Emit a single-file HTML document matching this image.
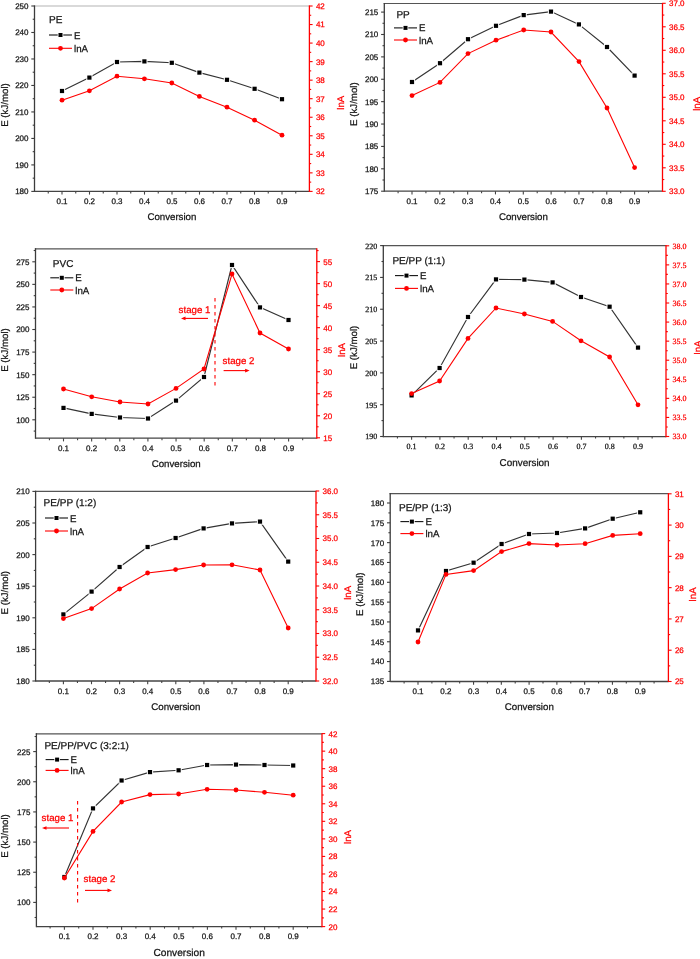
<!DOCTYPE html>
<html><head><meta charset="utf-8"><title>Charts</title>
<style>html,body{margin:0;padding:0;background:#fff;}svg{display:block;will-change:transform;filter:blur(0.35px);}text{text-rendering:geometricPrecision;stroke-width:0.25px;}</style>
</head><body>
<svg width="700" height="959" viewBox="0 0 700 959">
<rect width="700" height="959" fill="#fff"/>
<g>
<line x1="33.9" y1="6.0" x2="309.4" y2="6.0" stroke="#b4b4b4" stroke-width="1.2"/>
<line x1="34.5" y1="5.4" x2="34.5" y2="192.0" stroke="#3c3c3c" stroke-width="1.3"/>
<line x1="34.5" y1="191.4" x2="309.4" y2="191.4" stroke="#444444" stroke-width="1.3"/>
<line x1="309.4" y1="5.4" x2="309.4" y2="192.0" stroke="#ff0000" stroke-width="1.3"/>
<line x1="31.3" y1="191.40" x2="34.5" y2="191.40" stroke="#3c3c3c" stroke-width="1.1"/>
<text x="28.5" y="194.30" text-anchor="end" font-family='"Liberation Sans", sans-serif' font-size="8" fill="#141414" stroke="#141414">180</text>
<line x1="32.7" y1="178.16" x2="34.5" y2="178.16" stroke="#3c3c3c" stroke-width="1.1"/>
<line x1="31.3" y1="164.91" x2="34.5" y2="164.91" stroke="#3c3c3c" stroke-width="1.1"/>
<text x="28.5" y="167.81" text-anchor="end" font-family='"Liberation Sans", sans-serif' font-size="8" fill="#141414" stroke="#141414">190</text>
<line x1="32.7" y1="151.67" x2="34.5" y2="151.67" stroke="#3c3c3c" stroke-width="1.1"/>
<line x1="31.3" y1="138.43" x2="34.5" y2="138.43" stroke="#3c3c3c" stroke-width="1.1"/>
<text x="28.5" y="141.33" text-anchor="end" font-family='"Liberation Sans", sans-serif' font-size="8" fill="#141414" stroke="#141414">200</text>
<line x1="32.7" y1="125.19" x2="34.5" y2="125.19" stroke="#3c3c3c" stroke-width="1.1"/>
<line x1="31.3" y1="111.94" x2="34.5" y2="111.94" stroke="#3c3c3c" stroke-width="1.1"/>
<text x="28.5" y="114.84" text-anchor="end" font-family='"Liberation Sans", sans-serif' font-size="8" fill="#141414" stroke="#141414">210</text>
<line x1="32.7" y1="98.70" x2="34.5" y2="98.70" stroke="#3c3c3c" stroke-width="1.1"/>
<line x1="31.3" y1="85.46" x2="34.5" y2="85.46" stroke="#3c3c3c" stroke-width="1.1"/>
<text x="28.5" y="88.36" text-anchor="end" font-family='"Liberation Sans", sans-serif' font-size="8" fill="#141414" stroke="#141414">220</text>
<line x1="32.7" y1="72.21" x2="34.5" y2="72.21" stroke="#3c3c3c" stroke-width="1.1"/>
<line x1="31.3" y1="58.97" x2="34.5" y2="58.97" stroke="#3c3c3c" stroke-width="1.1"/>
<text x="28.5" y="61.87" text-anchor="end" font-family='"Liberation Sans", sans-serif' font-size="8" fill="#141414" stroke="#141414">230</text>
<line x1="32.7" y1="45.73" x2="34.5" y2="45.73" stroke="#3c3c3c" stroke-width="1.1"/>
<line x1="31.3" y1="32.49" x2="34.5" y2="32.49" stroke="#3c3c3c" stroke-width="1.1"/>
<text x="28.5" y="35.39" text-anchor="end" font-family='"Liberation Sans", sans-serif' font-size="8" fill="#141414" stroke="#141414">240</text>
<line x1="32.7" y1="19.24" x2="34.5" y2="19.24" stroke="#3c3c3c" stroke-width="1.1"/>
<line x1="31.3" y1="6.00" x2="34.5" y2="6.00" stroke="#3c3c3c" stroke-width="1.1"/>
<text x="28.5" y="8.90" text-anchor="end" font-family='"Liberation Sans", sans-serif' font-size="8" fill="#141414" stroke="#141414">250</text>
<line x1="309.4" y1="191.40" x2="312.6" y2="191.40" stroke="#ff0000" stroke-width="1.1"/>
<text x="315.9" y="194.30" font-family='"Liberation Sans", sans-serif' font-size="8" fill="#ff0000" stroke="#ff0000">32</text>
<line x1="309.4" y1="182.13" x2="311.2" y2="182.13" stroke="#ff0000" stroke-width="1.1"/>
<line x1="309.4" y1="172.86" x2="312.6" y2="172.86" stroke="#ff0000" stroke-width="1.1"/>
<text x="315.9" y="175.76" font-family='"Liberation Sans", sans-serif' font-size="8" fill="#ff0000" stroke="#ff0000">33</text>
<line x1="309.4" y1="163.59" x2="311.2" y2="163.59" stroke="#ff0000" stroke-width="1.1"/>
<line x1="309.4" y1="154.32" x2="312.6" y2="154.32" stroke="#ff0000" stroke-width="1.1"/>
<text x="315.9" y="157.22" font-family='"Liberation Sans", sans-serif' font-size="8" fill="#ff0000" stroke="#ff0000">34</text>
<line x1="309.4" y1="145.05" x2="311.2" y2="145.05" stroke="#ff0000" stroke-width="1.1"/>
<line x1="309.4" y1="135.78" x2="312.6" y2="135.78" stroke="#ff0000" stroke-width="1.1"/>
<text x="315.9" y="138.68" font-family='"Liberation Sans", sans-serif' font-size="8" fill="#ff0000" stroke="#ff0000">35</text>
<line x1="309.4" y1="126.51" x2="311.2" y2="126.51" stroke="#ff0000" stroke-width="1.1"/>
<line x1="309.4" y1="117.24" x2="312.6" y2="117.24" stroke="#ff0000" stroke-width="1.1"/>
<text x="315.9" y="120.14" font-family='"Liberation Sans", sans-serif' font-size="8" fill="#ff0000" stroke="#ff0000">36</text>
<line x1="309.4" y1="107.97" x2="311.2" y2="107.97" stroke="#ff0000" stroke-width="1.1"/>
<line x1="309.4" y1="98.70" x2="312.6" y2="98.70" stroke="#ff0000" stroke-width="1.1"/>
<text x="315.9" y="101.60" font-family='"Liberation Sans", sans-serif' font-size="8" fill="#ff0000" stroke="#ff0000">37</text>
<line x1="309.4" y1="89.43" x2="311.2" y2="89.43" stroke="#ff0000" stroke-width="1.1"/>
<line x1="309.4" y1="80.16" x2="312.6" y2="80.16" stroke="#ff0000" stroke-width="1.1"/>
<text x="315.9" y="83.06" font-family='"Liberation Sans", sans-serif' font-size="8" fill="#ff0000" stroke="#ff0000">38</text>
<line x1="309.4" y1="70.89" x2="311.2" y2="70.89" stroke="#ff0000" stroke-width="1.1"/>
<line x1="309.4" y1="61.62" x2="312.6" y2="61.62" stroke="#ff0000" stroke-width="1.1"/>
<text x="315.9" y="64.52" font-family='"Liberation Sans", sans-serif' font-size="8" fill="#ff0000" stroke="#ff0000">39</text>
<line x1="309.4" y1="52.35" x2="311.2" y2="52.35" stroke="#ff0000" stroke-width="1.1"/>
<line x1="309.4" y1="43.08" x2="312.6" y2="43.08" stroke="#ff0000" stroke-width="1.1"/>
<text x="315.9" y="45.98" font-family='"Liberation Sans", sans-serif' font-size="8" fill="#ff0000" stroke="#ff0000">40</text>
<line x1="309.4" y1="33.81" x2="311.2" y2="33.81" stroke="#ff0000" stroke-width="1.1"/>
<line x1="309.4" y1="24.54" x2="312.6" y2="24.54" stroke="#ff0000" stroke-width="1.1"/>
<text x="315.9" y="27.44" font-family='"Liberation Sans", sans-serif' font-size="8" fill="#ff0000" stroke="#ff0000">41</text>
<line x1="309.4" y1="15.27" x2="311.2" y2="15.27" stroke="#ff0000" stroke-width="1.1"/>
<line x1="309.4" y1="6.00" x2="312.6" y2="6.00" stroke="#ff0000" stroke-width="1.1"/>
<text x="315.9" y="8.90" font-family='"Liberation Sans", sans-serif' font-size="8" fill="#ff0000" stroke="#ff0000">42</text>
<line x1="48.25" y1="191.4" x2="48.25" y2="193.4" stroke="#444444" stroke-width="1.1"/>
<line x1="62.00" y1="191.4" x2="62.00" y2="194.6" stroke="#444444" stroke-width="1.1"/>
<text x="62.00" y="203.9" text-anchor="middle" font-family='"Liberation Sans", sans-serif' font-size="8" fill="#141414" stroke="#141414">0.1</text>
<line x1="75.75" y1="191.4" x2="75.75" y2="193.4" stroke="#444444" stroke-width="1.1"/>
<line x1="89.50" y1="191.4" x2="89.50" y2="194.6" stroke="#444444" stroke-width="1.1"/>
<text x="89.50" y="203.9" text-anchor="middle" font-family='"Liberation Sans", sans-serif' font-size="8" fill="#141414" stroke="#141414">0.2</text>
<line x1="103.25" y1="191.4" x2="103.25" y2="193.4" stroke="#444444" stroke-width="1.1"/>
<line x1="117.00" y1="191.4" x2="117.00" y2="194.6" stroke="#444444" stroke-width="1.1"/>
<text x="117.00" y="203.9" text-anchor="middle" font-family='"Liberation Sans", sans-serif' font-size="8" fill="#141414" stroke="#141414">0.3</text>
<line x1="130.75" y1="191.4" x2="130.75" y2="193.4" stroke="#444444" stroke-width="1.1"/>
<line x1="144.50" y1="191.4" x2="144.50" y2="194.6" stroke="#444444" stroke-width="1.1"/>
<text x="144.50" y="203.9" text-anchor="middle" font-family='"Liberation Sans", sans-serif' font-size="8" fill="#141414" stroke="#141414">0.4</text>
<line x1="158.25" y1="191.4" x2="158.25" y2="193.4" stroke="#444444" stroke-width="1.1"/>
<line x1="172.00" y1="191.4" x2="172.00" y2="194.6" stroke="#444444" stroke-width="1.1"/>
<text x="172.00" y="203.9" text-anchor="middle" font-family='"Liberation Sans", sans-serif' font-size="8" fill="#141414" stroke="#141414">0.5</text>
<line x1="185.75" y1="191.4" x2="185.75" y2="193.4" stroke="#444444" stroke-width="1.1"/>
<line x1="199.50" y1="191.4" x2="199.50" y2="194.6" stroke="#444444" stroke-width="1.1"/>
<text x="199.50" y="203.9" text-anchor="middle" font-family='"Liberation Sans", sans-serif' font-size="8" fill="#141414" stroke="#141414">0.6</text>
<line x1="213.25" y1="191.4" x2="213.25" y2="193.4" stroke="#444444" stroke-width="1.1"/>
<line x1="227.00" y1="191.4" x2="227.00" y2="194.6" stroke="#444444" stroke-width="1.1"/>
<text x="227.00" y="203.9" text-anchor="middle" font-family='"Liberation Sans", sans-serif' font-size="8" fill="#141414" stroke="#141414">0.7</text>
<line x1="240.75" y1="191.4" x2="240.75" y2="193.4" stroke="#444444" stroke-width="1.1"/>
<line x1="254.50" y1="191.4" x2="254.50" y2="194.6" stroke="#444444" stroke-width="1.1"/>
<text x="254.50" y="203.9" text-anchor="middle" font-family='"Liberation Sans", sans-serif' font-size="8" fill="#141414" stroke="#141414">0.8</text>
<line x1="268.25" y1="191.4" x2="268.25" y2="193.4" stroke="#444444" stroke-width="1.1"/>
<line x1="282.00" y1="191.4" x2="282.00" y2="194.6" stroke="#444444" stroke-width="1.1"/>
<text x="282.00" y="203.9" text-anchor="middle" font-family='"Liberation Sans", sans-serif' font-size="8" fill="#141414" stroke="#141414">0.9</text>
<line x1="295.75" y1="191.4" x2="295.75" y2="193.4" stroke="#444444" stroke-width="1.1"/>
<text x="171.9" y="219.7" text-anchor="middle" font-family='"Liberation Sans", sans-serif' font-size="9.70" fill="#141414" stroke="#141414">Conversion</text>
<text transform="translate(7.8 105.0) rotate(-90)" text-anchor="middle" font-family='"Liberation Sans", sans-serif' font-size="9.7" fill="#141414" stroke="#141414">E (kJ/mol)</text>
<text transform="translate(343.6 102.7) rotate(-90)" text-anchor="middle" font-family='"Liberation Sans", sans-serif' font-size="9.7" fill="#ff0000" stroke="#ff0000">lnA</text>
<text x="49.0" y="22.9" font-family='"Liberation Sans", sans-serif' font-size="10" fill="#141414" stroke="#141414">PE</text>
<line x1="49.0" y1="35.0" x2="72.0" y2="35.0" stroke="#111" stroke-width="1.1"/>
<rect x="57.70" y="32.20" width="5.6" height="5.6" fill="#fff"/>
<rect x="58.50" y="33.00" width="4" height="4" fill="#000"/>
<text x="74.0" y="38.5" font-family='"Liberation Sans", sans-serif' font-size="9.7" fill="#141414" stroke="#141414">E</text>
<line x1="49.0" y1="48.3" x2="72.0" y2="48.3" stroke="#ff0000" stroke-width="1.1"/>
<circle cx="60.5" cy="48.3" r="2.4" fill="#ff0000"/>
<text x="74.0" y="51.8" font-family='"Liberation Sans", sans-serif' font-size="9.7" fill="#141414" stroke="#141414">lnA</text>
<polyline points="62.0,91.0 89.4,77.6 117.0,62.0 144.4,61.4 171.8,62.8 199.4,72.6 227.0,79.8 254.6,88.8 282.0,99.2" fill="none" stroke="#333" stroke-width="1.15"/>
<rect x="58.90" y="87.90" width="6.2" height="6.2" fill="#fff"/>
<rect x="59.90" y="88.90" width="4.2" height="4.2" fill="#000"/>
<rect x="86.30" y="74.50" width="6.2" height="6.2" fill="#fff"/>
<rect x="87.30" y="75.50" width="4.2" height="4.2" fill="#000"/>
<rect x="113.90" y="58.90" width="6.2" height="6.2" fill="#fff"/>
<rect x="114.90" y="59.90" width="4.2" height="4.2" fill="#000"/>
<rect x="141.30" y="58.30" width="6.2" height="6.2" fill="#fff"/>
<rect x="142.30" y="59.30" width="4.2" height="4.2" fill="#000"/>
<rect x="168.70" y="59.70" width="6.2" height="6.2" fill="#fff"/>
<rect x="169.70" y="60.70" width="4.2" height="4.2" fill="#000"/>
<rect x="196.30" y="69.50" width="6.2" height="6.2" fill="#fff"/>
<rect x="197.30" y="70.50" width="4.2" height="4.2" fill="#000"/>
<rect x="223.90" y="76.70" width="6.2" height="6.2" fill="#fff"/>
<rect x="224.90" y="77.70" width="4.2" height="4.2" fill="#000"/>
<rect x="251.50" y="85.70" width="6.2" height="6.2" fill="#fff"/>
<rect x="252.50" y="86.70" width="4.2" height="4.2" fill="#000"/>
<rect x="278.90" y="96.10" width="6.2" height="6.2" fill="#fff"/>
<rect x="279.90" y="97.10" width="4.2" height="4.2" fill="#000"/>
<polyline points="62.0,100.2 89.4,90.8 117.0,76.2 144.4,78.8 171.8,83.0 199.4,96.4 227.0,107.2 254.6,120.2 282.0,135.2" fill="none" stroke="#ff0000" stroke-width="1.1"/>
<circle cx="62.0" cy="100.2" r="2.4" fill="#ff0000"/>
<circle cx="89.4" cy="90.8" r="2.4" fill="#ff0000"/>
<circle cx="117.0" cy="76.2" r="2.4" fill="#ff0000"/>
<circle cx="144.4" cy="78.8" r="2.4" fill="#ff0000"/>
<circle cx="171.8" cy="83.0" r="2.4" fill="#ff0000"/>
<circle cx="199.4" cy="96.4" r="2.4" fill="#ff0000"/>
<circle cx="227.0" cy="107.2" r="2.4" fill="#ff0000"/>
<circle cx="254.6" cy="120.2" r="2.4" fill="#ff0000"/>
<circle cx="282.0" cy="135.2" r="2.4" fill="#ff0000"/>
</g>
<g>
<line x1="383.7" y1="3.5" x2="662.5" y2="3.5" stroke="#555555" stroke-width="1.2"/>
<line x1="384.3" y1="2.9" x2="384.3" y2="191.8" stroke="#3c3c3c" stroke-width="1.3"/>
<line x1="384.3" y1="191.2" x2="662.5" y2="191.2" stroke="#444444" stroke-width="1.3"/>
<line x1="662.5" y1="2.9" x2="662.5" y2="191.8" stroke="#ff0000" stroke-width="1.3"/>
<line x1="381.1" y1="191.20" x2="384.3" y2="191.20" stroke="#3c3c3c" stroke-width="1.1"/>
<text x="378.3" y="194.10" text-anchor="end" font-family='"Liberation Sans", sans-serif' font-size="8" fill="#141414" stroke="#141414">175</text>
<line x1="382.5" y1="180.01" x2="384.3" y2="180.01" stroke="#3c3c3c" stroke-width="1.1"/>
<line x1="381.1" y1="168.81" x2="384.3" y2="168.81" stroke="#3c3c3c" stroke-width="1.1"/>
<text x="378.3" y="171.71" text-anchor="end" font-family='"Liberation Sans", sans-serif' font-size="8" fill="#141414" stroke="#141414">180</text>
<line x1="382.5" y1="157.62" x2="384.3" y2="157.62" stroke="#3c3c3c" stroke-width="1.1"/>
<line x1="381.1" y1="146.42" x2="384.3" y2="146.42" stroke="#3c3c3c" stroke-width="1.1"/>
<text x="378.3" y="149.32" text-anchor="end" font-family='"Liberation Sans", sans-serif' font-size="8" fill="#141414" stroke="#141414">185</text>
<line x1="382.5" y1="135.23" x2="384.3" y2="135.23" stroke="#3c3c3c" stroke-width="1.1"/>
<line x1="381.1" y1="124.04" x2="384.3" y2="124.04" stroke="#3c3c3c" stroke-width="1.1"/>
<text x="378.3" y="126.94" text-anchor="end" font-family='"Liberation Sans", sans-serif' font-size="8" fill="#141414" stroke="#141414">190</text>
<line x1="382.5" y1="112.84" x2="384.3" y2="112.84" stroke="#3c3c3c" stroke-width="1.1"/>
<line x1="381.1" y1="101.65" x2="384.3" y2="101.65" stroke="#3c3c3c" stroke-width="1.1"/>
<text x="378.3" y="104.55" text-anchor="end" font-family='"Liberation Sans", sans-serif' font-size="8" fill="#141414" stroke="#141414">195</text>
<line x1="382.5" y1="90.46" x2="384.3" y2="90.46" stroke="#3c3c3c" stroke-width="1.1"/>
<line x1="381.1" y1="79.26" x2="384.3" y2="79.26" stroke="#3c3c3c" stroke-width="1.1"/>
<text x="378.3" y="82.16" text-anchor="end" font-family='"Liberation Sans", sans-serif' font-size="8" fill="#141414" stroke="#141414">200</text>
<line x1="382.5" y1="68.07" x2="384.3" y2="68.07" stroke="#3c3c3c" stroke-width="1.1"/>
<line x1="381.1" y1="56.88" x2="384.3" y2="56.88" stroke="#3c3c3c" stroke-width="1.1"/>
<text x="378.3" y="59.77" text-anchor="end" font-family='"Liberation Sans", sans-serif' font-size="8" fill="#141414" stroke="#141414">205</text>
<line x1="382.5" y1="45.68" x2="384.3" y2="45.68" stroke="#3c3c3c" stroke-width="1.1"/>
<line x1="381.1" y1="34.49" x2="384.3" y2="34.49" stroke="#3c3c3c" stroke-width="1.1"/>
<text x="378.3" y="37.39" text-anchor="end" font-family='"Liberation Sans", sans-serif' font-size="8" fill="#141414" stroke="#141414">210</text>
<line x1="382.5" y1="23.29" x2="384.3" y2="23.29" stroke="#3c3c3c" stroke-width="1.1"/>
<line x1="381.1" y1="12.10" x2="384.3" y2="12.10" stroke="#3c3c3c" stroke-width="1.1"/>
<text x="378.3" y="15.00" text-anchor="end" font-family='"Liberation Sans", sans-serif' font-size="8" fill="#141414" stroke="#141414">215</text>
<line x1="662.5" y1="191.30" x2="665.7" y2="191.30" stroke="#ff0000" stroke-width="1.1"/>
<text x="669.0" y="194.20" font-family='"Liberation Sans", sans-serif' font-size="8" fill="#ff0000" stroke="#ff0000">33.0</text>
<line x1="662.5" y1="179.55" x2="664.3" y2="179.55" stroke="#ff0000" stroke-width="1.1"/>
<line x1="662.5" y1="167.80" x2="665.7" y2="167.80" stroke="#ff0000" stroke-width="1.1"/>
<text x="669.0" y="170.70" font-family='"Liberation Sans", sans-serif' font-size="8" fill="#ff0000" stroke="#ff0000">33.5</text>
<line x1="662.5" y1="156.05" x2="664.3" y2="156.05" stroke="#ff0000" stroke-width="1.1"/>
<line x1="662.5" y1="144.30" x2="665.7" y2="144.30" stroke="#ff0000" stroke-width="1.1"/>
<text x="669.0" y="147.20" font-family='"Liberation Sans", sans-serif' font-size="8" fill="#ff0000" stroke="#ff0000">34.0</text>
<line x1="662.5" y1="132.55" x2="664.3" y2="132.55" stroke="#ff0000" stroke-width="1.1"/>
<line x1="662.5" y1="120.80" x2="665.7" y2="120.80" stroke="#ff0000" stroke-width="1.1"/>
<text x="669.0" y="123.70" font-family='"Liberation Sans", sans-serif' font-size="8" fill="#ff0000" stroke="#ff0000">34.5</text>
<line x1="662.5" y1="109.05" x2="664.3" y2="109.05" stroke="#ff0000" stroke-width="1.1"/>
<line x1="662.5" y1="97.30" x2="665.7" y2="97.30" stroke="#ff0000" stroke-width="1.1"/>
<text x="669.0" y="100.20" font-family='"Liberation Sans", sans-serif' font-size="8" fill="#ff0000" stroke="#ff0000">35.0</text>
<line x1="662.5" y1="85.55" x2="664.3" y2="85.55" stroke="#ff0000" stroke-width="1.1"/>
<line x1="662.5" y1="73.80" x2="665.7" y2="73.80" stroke="#ff0000" stroke-width="1.1"/>
<text x="669.0" y="76.70" font-family='"Liberation Sans", sans-serif' font-size="8" fill="#ff0000" stroke="#ff0000">35.5</text>
<line x1="662.5" y1="62.05" x2="664.3" y2="62.05" stroke="#ff0000" stroke-width="1.1"/>
<line x1="662.5" y1="50.30" x2="665.7" y2="50.30" stroke="#ff0000" stroke-width="1.1"/>
<text x="669.0" y="53.20" font-family='"Liberation Sans", sans-serif' font-size="8" fill="#ff0000" stroke="#ff0000">36.0</text>
<line x1="662.5" y1="38.55" x2="664.3" y2="38.55" stroke="#ff0000" stroke-width="1.1"/>
<line x1="662.5" y1="26.80" x2="665.7" y2="26.80" stroke="#ff0000" stroke-width="1.1"/>
<text x="669.0" y="29.70" font-family='"Liberation Sans", sans-serif' font-size="8" fill="#ff0000" stroke="#ff0000">36.5</text>
<line x1="662.5" y1="15.05" x2="664.3" y2="15.05" stroke="#ff0000" stroke-width="1.1"/>
<line x1="662.5" y1="3.30" x2="665.7" y2="3.30" stroke="#ff0000" stroke-width="1.1"/>
<text x="669.0" y="6.20" font-family='"Liberation Sans", sans-serif' font-size="8" fill="#ff0000" stroke="#ff0000">37.0</text>
<line x1="398.09" y1="191.2" x2="398.09" y2="193.2" stroke="#444444" stroke-width="1.1"/>
<line x1="412.00" y1="191.2" x2="412.00" y2="194.4" stroke="#444444" stroke-width="1.1"/>
<text x="412.00" y="203.7" text-anchor="middle" font-family='"Liberation Sans", sans-serif' font-size="8" fill="#141414" stroke="#141414">0.1</text>
<line x1="425.91" y1="191.2" x2="425.91" y2="193.2" stroke="#444444" stroke-width="1.1"/>
<line x1="439.82" y1="191.2" x2="439.82" y2="194.4" stroke="#444444" stroke-width="1.1"/>
<text x="439.82" y="203.7" text-anchor="middle" font-family='"Liberation Sans", sans-serif' font-size="8" fill="#141414" stroke="#141414">0.2</text>
<line x1="453.74" y1="191.2" x2="453.74" y2="193.2" stroke="#444444" stroke-width="1.1"/>
<line x1="467.65" y1="191.2" x2="467.65" y2="194.4" stroke="#444444" stroke-width="1.1"/>
<text x="467.65" y="203.7" text-anchor="middle" font-family='"Liberation Sans", sans-serif' font-size="8" fill="#141414" stroke="#141414">0.3</text>
<line x1="481.56" y1="191.2" x2="481.56" y2="193.2" stroke="#444444" stroke-width="1.1"/>
<line x1="495.48" y1="191.2" x2="495.48" y2="194.4" stroke="#444444" stroke-width="1.1"/>
<text x="495.48" y="203.7" text-anchor="middle" font-family='"Liberation Sans", sans-serif' font-size="8" fill="#141414" stroke="#141414">0.4</text>
<line x1="509.39" y1="191.2" x2="509.39" y2="193.2" stroke="#444444" stroke-width="1.1"/>
<line x1="523.30" y1="191.2" x2="523.30" y2="194.4" stroke="#444444" stroke-width="1.1"/>
<text x="523.30" y="203.7" text-anchor="middle" font-family='"Liberation Sans", sans-serif' font-size="8" fill="#141414" stroke="#141414">0.5</text>
<line x1="537.21" y1="191.2" x2="537.21" y2="193.2" stroke="#444444" stroke-width="1.1"/>
<line x1="551.12" y1="191.2" x2="551.12" y2="194.4" stroke="#444444" stroke-width="1.1"/>
<text x="551.12" y="203.7" text-anchor="middle" font-family='"Liberation Sans", sans-serif' font-size="8" fill="#141414" stroke="#141414">0.6</text>
<line x1="565.04" y1="191.2" x2="565.04" y2="193.2" stroke="#444444" stroke-width="1.1"/>
<line x1="578.95" y1="191.2" x2="578.95" y2="194.4" stroke="#444444" stroke-width="1.1"/>
<text x="578.95" y="203.7" text-anchor="middle" font-family='"Liberation Sans", sans-serif' font-size="8" fill="#141414" stroke="#141414">0.7</text>
<line x1="592.86" y1="191.2" x2="592.86" y2="193.2" stroke="#444444" stroke-width="1.1"/>
<line x1="606.78" y1="191.2" x2="606.78" y2="194.4" stroke="#444444" stroke-width="1.1"/>
<text x="606.78" y="203.7" text-anchor="middle" font-family='"Liberation Sans", sans-serif' font-size="8" fill="#141414" stroke="#141414">0.8</text>
<line x1="620.69" y1="191.2" x2="620.69" y2="193.2" stroke="#444444" stroke-width="1.1"/>
<line x1="634.60" y1="191.2" x2="634.60" y2="194.4" stroke="#444444" stroke-width="1.1"/>
<text x="634.60" y="203.7" text-anchor="middle" font-family='"Liberation Sans", sans-serif' font-size="8" fill="#141414" stroke="#141414">0.9</text>
<line x1="648.51" y1="191.2" x2="648.51" y2="193.2" stroke="#444444" stroke-width="1.1"/>
<text x="523.4" y="219.7" text-anchor="middle" font-family='"Liberation Sans", sans-serif' font-size="9.70" fill="#141414" stroke="#141414">Conversion</text>
<text transform="translate(356.9 104.1) rotate(-90)" text-anchor="middle" font-family='"Liberation Sans", sans-serif' font-size="9.7" fill="#141414" stroke="#141414">E (kJ/mol)</text>
<text transform="translate(699.6 103.8) rotate(-90)" text-anchor="middle" font-family='"Liberation Sans", sans-serif' font-size="9.7" fill="#ff0000" stroke="#ff0000">lnA</text>
<text x="396.4" y="18.4" font-family='"Liberation Sans", sans-serif' font-size="10" fill="#141414" stroke="#141414">PP</text>
<line x1="394.0" y1="27.9" x2="417.0" y2="27.9" stroke="#111" stroke-width="1.1"/>
<rect x="402.70" y="25.10" width="5.6" height="5.6" fill="#fff"/>
<rect x="403.50" y="25.90" width="4" height="4" fill="#000"/>
<text x="419.0" y="31.4" font-family='"Liberation Sans", sans-serif' font-size="9.7" fill="#141414" stroke="#141414">E</text>
<line x1="394.0" y1="40.0" x2="417.0" y2="40.0" stroke="#ff0000" stroke-width="1.1"/>
<circle cx="405.5" cy="40.0" r="2.4" fill="#ff0000"/>
<text x="419.0" y="43.5" font-family='"Liberation Sans", sans-serif' font-size="9.7" fill="#141414" stroke="#141414">lnA</text>
<polyline points="412.0,82.0 440.0,63.2 468.0,39.2 496.0,25.8 523.7,15.1 551.0,11.6 578.9,24.4 607.0,47.0 634.6,75.6" fill="none" stroke="#333" stroke-width="1.15"/>
<rect x="408.90" y="78.90" width="6.2" height="6.2" fill="#fff"/>
<rect x="409.90" y="79.90" width="4.2" height="4.2" fill="#000"/>
<rect x="436.90" y="60.10" width="6.2" height="6.2" fill="#fff"/>
<rect x="437.90" y="61.10" width="4.2" height="4.2" fill="#000"/>
<rect x="464.90" y="36.10" width="6.2" height="6.2" fill="#fff"/>
<rect x="465.90" y="37.10" width="4.2" height="4.2" fill="#000"/>
<rect x="492.90" y="22.70" width="6.2" height="6.2" fill="#fff"/>
<rect x="493.90" y="23.70" width="4.2" height="4.2" fill="#000"/>
<rect x="520.60" y="12.00" width="6.2" height="6.2" fill="#fff"/>
<rect x="521.60" y="13.00" width="4.2" height="4.2" fill="#000"/>
<rect x="547.90" y="8.50" width="6.2" height="6.2" fill="#fff"/>
<rect x="548.90" y="9.50" width="4.2" height="4.2" fill="#000"/>
<rect x="575.80" y="21.30" width="6.2" height="6.2" fill="#fff"/>
<rect x="576.80" y="22.30" width="4.2" height="4.2" fill="#000"/>
<rect x="603.90" y="43.90" width="6.2" height="6.2" fill="#fff"/>
<rect x="604.90" y="44.90" width="4.2" height="4.2" fill="#000"/>
<rect x="631.50" y="72.50" width="6.2" height="6.2" fill="#fff"/>
<rect x="632.50" y="73.50" width="4.2" height="4.2" fill="#000"/>
<polyline points="412.0,95.6 440.0,82.4 468.0,53.6 496.0,40.2 523.7,30.0 551.0,32.0 579.0,61.6 607.0,108.0 634.6,167.6" fill="none" stroke="#ff0000" stroke-width="1.1"/>
<circle cx="412.0" cy="95.6" r="2.4" fill="#ff0000"/>
<circle cx="440.0" cy="82.4" r="2.4" fill="#ff0000"/>
<circle cx="468.0" cy="53.6" r="2.4" fill="#ff0000"/>
<circle cx="496.0" cy="40.2" r="2.4" fill="#ff0000"/>
<circle cx="523.7" cy="30.0" r="2.4" fill="#ff0000"/>
<circle cx="551.0" cy="32.0" r="2.4" fill="#ff0000"/>
<circle cx="579.0" cy="61.6" r="2.4" fill="#ff0000"/>
<circle cx="607.0" cy="108.0" r="2.4" fill="#ff0000"/>
<circle cx="634.6" cy="167.6" r="2.4" fill="#ff0000"/>
</g>
<g>
<line x1="34.9" y1="248.8" x2="316.8" y2="248.8" stroke="#555555" stroke-width="1.2"/>
<line x1="35.5" y1="248.2" x2="35.5" y2="438.8" stroke="#3c3c3c" stroke-width="1.3"/>
<line x1="35.5" y1="438.2" x2="316.8" y2="438.2" stroke="#444444" stroke-width="1.3"/>
<line x1="316.8" y1="248.2" x2="316.8" y2="438.8" stroke="#ff0000" stroke-width="1.3"/>
<line x1="33.7" y1="431.09" x2="35.5" y2="431.09" stroke="#3c3c3c" stroke-width="1.1"/>
<line x1="32.3" y1="419.80" x2="35.5" y2="419.80" stroke="#3c3c3c" stroke-width="1.1"/>
<text x="29.5" y="422.70" text-anchor="end" font-family='"Liberation Sans", sans-serif' font-size="8" fill="#141414" stroke="#141414">100</text>
<line x1="33.7" y1="408.51" x2="35.5" y2="408.51" stroke="#3c3c3c" stroke-width="1.1"/>
<line x1="32.3" y1="397.23" x2="35.5" y2="397.23" stroke="#3c3c3c" stroke-width="1.1"/>
<text x="29.5" y="400.13" text-anchor="end" font-family='"Liberation Sans", sans-serif' font-size="8" fill="#141414" stroke="#141414">125</text>
<line x1="33.7" y1="385.94" x2="35.5" y2="385.94" stroke="#3c3c3c" stroke-width="1.1"/>
<line x1="32.3" y1="374.66" x2="35.5" y2="374.66" stroke="#3c3c3c" stroke-width="1.1"/>
<text x="29.5" y="377.56" text-anchor="end" font-family='"Liberation Sans", sans-serif' font-size="8" fill="#141414" stroke="#141414">150</text>
<line x1="33.7" y1="363.37" x2="35.5" y2="363.37" stroke="#3c3c3c" stroke-width="1.1"/>
<line x1="32.3" y1="352.09" x2="35.5" y2="352.09" stroke="#3c3c3c" stroke-width="1.1"/>
<text x="29.5" y="354.99" text-anchor="end" font-family='"Liberation Sans", sans-serif' font-size="8" fill="#141414" stroke="#141414">175</text>
<line x1="33.7" y1="340.80" x2="35.5" y2="340.80" stroke="#3c3c3c" stroke-width="1.1"/>
<line x1="32.3" y1="329.51" x2="35.5" y2="329.51" stroke="#3c3c3c" stroke-width="1.1"/>
<text x="29.5" y="332.41" text-anchor="end" font-family='"Liberation Sans", sans-serif' font-size="8" fill="#141414" stroke="#141414">200</text>
<line x1="33.7" y1="318.23" x2="35.5" y2="318.23" stroke="#3c3c3c" stroke-width="1.1"/>
<line x1="32.3" y1="306.94" x2="35.5" y2="306.94" stroke="#3c3c3c" stroke-width="1.1"/>
<text x="29.5" y="309.84" text-anchor="end" font-family='"Liberation Sans", sans-serif' font-size="8" fill="#141414" stroke="#141414">225</text>
<line x1="33.7" y1="295.66" x2="35.5" y2="295.66" stroke="#3c3c3c" stroke-width="1.1"/>
<line x1="32.3" y1="284.37" x2="35.5" y2="284.37" stroke="#3c3c3c" stroke-width="1.1"/>
<text x="29.5" y="287.27" text-anchor="end" font-family='"Liberation Sans", sans-serif' font-size="8" fill="#141414" stroke="#141414">250</text>
<line x1="33.7" y1="273.09" x2="35.5" y2="273.09" stroke="#3c3c3c" stroke-width="1.1"/>
<line x1="32.3" y1="261.80" x2="35.5" y2="261.80" stroke="#3c3c3c" stroke-width="1.1"/>
<text x="29.5" y="264.70" text-anchor="end" font-family='"Liberation Sans", sans-serif' font-size="8" fill="#141414" stroke="#141414">275</text>
<line x1="33.7" y1="250.51" x2="35.5" y2="250.51" stroke="#3c3c3c" stroke-width="1.1"/>
<line x1="316.8" y1="437.80" x2="320.0" y2="437.80" stroke="#ff0000" stroke-width="1.1"/>
<text x="323.3" y="440.70" font-family='"Liberation Sans", sans-serif' font-size="8" fill="#ff0000" stroke="#ff0000">15</text>
<line x1="316.8" y1="426.79" x2="318.6" y2="426.79" stroke="#ff0000" stroke-width="1.1"/>
<line x1="316.8" y1="415.78" x2="320.0" y2="415.78" stroke="#ff0000" stroke-width="1.1"/>
<text x="323.3" y="418.68" font-family='"Liberation Sans", sans-serif' font-size="8" fill="#ff0000" stroke="#ff0000">20</text>
<line x1="316.8" y1="404.76" x2="318.6" y2="404.76" stroke="#ff0000" stroke-width="1.1"/>
<line x1="316.8" y1="393.75" x2="320.0" y2="393.75" stroke="#ff0000" stroke-width="1.1"/>
<text x="323.3" y="396.65" font-family='"Liberation Sans", sans-serif' font-size="8" fill="#ff0000" stroke="#ff0000">25</text>
<line x1="316.8" y1="382.74" x2="318.6" y2="382.74" stroke="#ff0000" stroke-width="1.1"/>
<line x1="316.8" y1="371.73" x2="320.0" y2="371.73" stroke="#ff0000" stroke-width="1.1"/>
<text x="323.3" y="374.62" font-family='"Liberation Sans", sans-serif' font-size="8" fill="#ff0000" stroke="#ff0000">30</text>
<line x1="316.8" y1="360.71" x2="318.6" y2="360.71" stroke="#ff0000" stroke-width="1.1"/>
<line x1="316.8" y1="349.70" x2="320.0" y2="349.70" stroke="#ff0000" stroke-width="1.1"/>
<text x="323.3" y="352.60" font-family='"Liberation Sans", sans-serif' font-size="8" fill="#ff0000" stroke="#ff0000">35</text>
<line x1="316.8" y1="338.69" x2="318.6" y2="338.69" stroke="#ff0000" stroke-width="1.1"/>
<line x1="316.8" y1="327.68" x2="320.0" y2="327.68" stroke="#ff0000" stroke-width="1.1"/>
<text x="323.3" y="330.57" font-family='"Liberation Sans", sans-serif' font-size="8" fill="#ff0000" stroke="#ff0000">40</text>
<line x1="316.8" y1="316.66" x2="318.6" y2="316.66" stroke="#ff0000" stroke-width="1.1"/>
<line x1="316.8" y1="305.65" x2="320.0" y2="305.65" stroke="#ff0000" stroke-width="1.1"/>
<text x="323.3" y="308.55" font-family='"Liberation Sans", sans-serif' font-size="8" fill="#ff0000" stroke="#ff0000">45</text>
<line x1="316.8" y1="294.64" x2="318.6" y2="294.64" stroke="#ff0000" stroke-width="1.1"/>
<line x1="316.8" y1="283.62" x2="320.0" y2="283.62" stroke="#ff0000" stroke-width="1.1"/>
<text x="323.3" y="286.52" font-family='"Liberation Sans", sans-serif' font-size="8" fill="#ff0000" stroke="#ff0000">50</text>
<line x1="316.8" y1="272.61" x2="318.6" y2="272.61" stroke="#ff0000" stroke-width="1.1"/>
<line x1="316.8" y1="261.60" x2="320.0" y2="261.60" stroke="#ff0000" stroke-width="1.1"/>
<text x="323.3" y="264.50" font-family='"Liberation Sans", sans-serif' font-size="8" fill="#ff0000" stroke="#ff0000">55</text>
<line x1="316.8" y1="250.59" x2="318.6" y2="250.59" stroke="#ff0000" stroke-width="1.1"/>
<line x1="49.43" y1="438.2" x2="49.43" y2="440.2" stroke="#444444" stroke-width="1.1"/>
<line x1="63.50" y1="438.2" x2="63.50" y2="441.4" stroke="#444444" stroke-width="1.1"/>
<text x="63.50" y="450.7" text-anchor="middle" font-family='"Liberation Sans", sans-serif' font-size="8" fill="#141414" stroke="#141414">0.1</text>
<line x1="77.57" y1="438.2" x2="77.57" y2="440.2" stroke="#444444" stroke-width="1.1"/>
<line x1="91.64" y1="438.2" x2="91.64" y2="441.4" stroke="#444444" stroke-width="1.1"/>
<text x="91.64" y="450.7" text-anchor="middle" font-family='"Liberation Sans", sans-serif' font-size="8" fill="#141414" stroke="#141414">0.2</text>
<line x1="105.71" y1="438.2" x2="105.71" y2="440.2" stroke="#444444" stroke-width="1.1"/>
<line x1="119.78" y1="438.2" x2="119.78" y2="441.4" stroke="#444444" stroke-width="1.1"/>
<text x="119.78" y="450.7" text-anchor="middle" font-family='"Liberation Sans", sans-serif' font-size="8" fill="#141414" stroke="#141414">0.3</text>
<line x1="133.84" y1="438.2" x2="133.84" y2="440.2" stroke="#444444" stroke-width="1.1"/>
<line x1="147.91" y1="438.2" x2="147.91" y2="441.4" stroke="#444444" stroke-width="1.1"/>
<text x="147.91" y="450.7" text-anchor="middle" font-family='"Liberation Sans", sans-serif' font-size="8" fill="#141414" stroke="#141414">0.4</text>
<line x1="161.98" y1="438.2" x2="161.98" y2="440.2" stroke="#444444" stroke-width="1.1"/>
<line x1="176.05" y1="438.2" x2="176.05" y2="441.4" stroke="#444444" stroke-width="1.1"/>
<text x="176.05" y="450.7" text-anchor="middle" font-family='"Liberation Sans", sans-serif' font-size="8" fill="#141414" stroke="#141414">0.5</text>
<line x1="190.12" y1="438.2" x2="190.12" y2="440.2" stroke="#444444" stroke-width="1.1"/>
<line x1="204.19" y1="438.2" x2="204.19" y2="441.4" stroke="#444444" stroke-width="1.1"/>
<text x="204.19" y="450.7" text-anchor="middle" font-family='"Liberation Sans", sans-serif' font-size="8" fill="#141414" stroke="#141414">0.6</text>
<line x1="218.26" y1="438.2" x2="218.26" y2="440.2" stroke="#444444" stroke-width="1.1"/>
<line x1="232.33" y1="438.2" x2="232.33" y2="441.4" stroke="#444444" stroke-width="1.1"/>
<text x="232.33" y="450.7" text-anchor="middle" font-family='"Liberation Sans", sans-serif' font-size="8" fill="#141414" stroke="#141414">0.7</text>
<line x1="246.39" y1="438.2" x2="246.39" y2="440.2" stroke="#444444" stroke-width="1.1"/>
<line x1="260.46" y1="438.2" x2="260.46" y2="441.4" stroke="#444444" stroke-width="1.1"/>
<text x="260.46" y="450.7" text-anchor="middle" font-family='"Liberation Sans", sans-serif' font-size="8" fill="#141414" stroke="#141414">0.8</text>
<line x1="274.53" y1="438.2" x2="274.53" y2="440.2" stroke="#444444" stroke-width="1.1"/>
<line x1="288.60" y1="438.2" x2="288.60" y2="441.4" stroke="#444444" stroke-width="1.1"/>
<text x="288.60" y="450.7" text-anchor="middle" font-family='"Liberation Sans", sans-serif' font-size="8" fill="#141414" stroke="#141414">0.9</text>
<line x1="302.67" y1="438.2" x2="302.67" y2="440.2" stroke="#444444" stroke-width="1.1"/>
<text x="176.2" y="466.6" text-anchor="middle" font-family='"Liberation Sans", sans-serif' font-size="9.70" fill="#141414" stroke="#141414">Conversion</text>
<text transform="translate(8.2 350.0) rotate(-90)" text-anchor="middle" font-family='"Liberation Sans", sans-serif' font-size="9.7" fill="#141414" stroke="#141414">E (kJ/mol)</text>
<text transform="translate(344.6 350.0) rotate(-90)" text-anchor="middle" font-family='"Liberation Sans", sans-serif' font-size="9.7" fill="#ff0000" stroke="#ff0000">lnA</text>
<text x="52.8" y="267.3" font-family='"Liberation Sans", sans-serif' font-size="10" fill="#141414" stroke="#141414">PVC</text>
<line x1="50.3" y1="277.8" x2="73.3" y2="277.8" stroke="#111" stroke-width="1.1"/>
<rect x="59.00" y="275.00" width="5.6" height="5.6" fill="#fff"/>
<rect x="59.80" y="275.80" width="4" height="4" fill="#000"/>
<text x="75.3" y="281.3" font-family='"Liberation Sans", sans-serif' font-size="9.7" fill="#141414" stroke="#141414">E</text>
<line x1="50.3" y1="290.0" x2="73.3" y2="290.0" stroke="#ff0000" stroke-width="1.1"/>
<circle cx="61.8" cy="290.0" r="2.4" fill="#ff0000"/>
<text x="75.3" y="293.5" font-family='"Liberation Sans", sans-serif' font-size="9.7" fill="#141414" stroke="#141414">lnA</text>
<polyline points="63.5,407.9 91.7,413.9 120.0,417.5 148.0,418.5 176.0,400.6 204.0,377.0 232.0,265.0 260.0,307.4 288.5,320.0" fill="none" stroke="#333" stroke-width="1.15"/>
<rect x="60.40" y="404.80" width="6.2" height="6.2" fill="#fff"/>
<rect x="61.40" y="405.80" width="4.2" height="4.2" fill="#000"/>
<rect x="88.60" y="410.80" width="6.2" height="6.2" fill="#fff"/>
<rect x="89.60" y="411.80" width="4.2" height="4.2" fill="#000"/>
<rect x="116.90" y="414.40" width="6.2" height="6.2" fill="#fff"/>
<rect x="117.90" y="415.40" width="4.2" height="4.2" fill="#000"/>
<rect x="144.90" y="415.40" width="6.2" height="6.2" fill="#fff"/>
<rect x="145.90" y="416.40" width="4.2" height="4.2" fill="#000"/>
<rect x="172.90" y="397.50" width="6.2" height="6.2" fill="#fff"/>
<rect x="173.90" y="398.50" width="4.2" height="4.2" fill="#000"/>
<rect x="200.90" y="373.90" width="6.2" height="6.2" fill="#fff"/>
<rect x="201.90" y="374.90" width="4.2" height="4.2" fill="#000"/>
<rect x="228.90" y="261.90" width="6.2" height="6.2" fill="#fff"/>
<rect x="229.90" y="262.90" width="4.2" height="4.2" fill="#000"/>
<rect x="256.90" y="304.30" width="6.2" height="6.2" fill="#fff"/>
<rect x="257.90" y="305.30" width="4.2" height="4.2" fill="#000"/>
<rect x="285.40" y="316.90" width="6.2" height="6.2" fill="#fff"/>
<rect x="286.40" y="317.90" width="4.2" height="4.2" fill="#000"/>
<polyline points="63.5,389.0 91.7,396.8 120.0,402.0 148.0,404.0 176.0,388.4 204.0,369.0 232.0,274.0 260.0,333.0 288.5,349.0" fill="none" stroke="#ff0000" stroke-width="1.1"/>
<circle cx="63.5" cy="389.0" r="2.4" fill="#ff0000"/>
<circle cx="91.7" cy="396.8" r="2.4" fill="#ff0000"/>
<circle cx="120.0" cy="402.0" r="2.4" fill="#ff0000"/>
<circle cx="148.0" cy="404.0" r="2.4" fill="#ff0000"/>
<circle cx="176.0" cy="388.4" r="2.4" fill="#ff0000"/>
<circle cx="204.0" cy="369.0" r="2.4" fill="#ff0000"/>
<circle cx="232.0" cy="274.0" r="2.4" fill="#ff0000"/>
<circle cx="260.0" cy="333.0" r="2.4" fill="#ff0000"/>
<circle cx="288.5" cy="349.0" r="2.4" fill="#ff0000"/>
<line x1="215.0" y1="298.0" x2="215.0" y2="389.0" stroke="#ff0000" stroke-width="1.1" stroke-dasharray="3.5,3.5"/>
<text x="178.6" y="313.0" font-family='"Liberation Sans", sans-serif' font-size="9.7" fill="#ff0000" stroke="#ff0000">stage 1</text>
<text x="222.6" y="364.0" font-family='"Liberation Sans", sans-serif' font-size="9.7" fill="#ff0000" stroke="#ff0000">stage 2</text>
<line x1="208.0" y1="318.4" x2="183.0" y2="318.4" stroke="#ff0000" stroke-width="1.1"/>
<polygon points="181.0,318.4 185.5,316.6 185.5,320.2" fill="#ff0000"/>
<line x1="223.6" y1="370.6" x2="247.6" y2="370.6" stroke="#ff0000" stroke-width="1.1"/>
<polygon points="249.6,370.6 245.1,368.8 245.1,372.4" fill="#ff0000"/>
</g>
<g>
<line x1="382.7" y1="245.7" x2="666.0" y2="245.7" stroke="#555555" stroke-width="1.2"/>
<line x1="383.3" y1="245.1" x2="383.3" y2="437.2" stroke="#3c3c3c" stroke-width="1.3"/>
<line x1="383.3" y1="436.6" x2="666.0" y2="436.6" stroke="#444444" stroke-width="1.3"/>
<line x1="666.0" y1="245.1" x2="666.0" y2="437.2" stroke="#ff0000" stroke-width="1.3"/>
<line x1="380.1" y1="436.50" x2="383.3" y2="436.50" stroke="#3c3c3c" stroke-width="1.1"/>
<text x="377.3" y="439.40" text-anchor="end" font-family='"Liberation Serif", serif' font-size="8" fill="#141414" stroke="#141414">190</text>
<line x1="381.5" y1="420.59" x2="383.3" y2="420.59" stroke="#3c3c3c" stroke-width="1.1"/>
<line x1="380.1" y1="404.68" x2="383.3" y2="404.68" stroke="#3c3c3c" stroke-width="1.1"/>
<text x="377.3" y="407.58" text-anchor="end" font-family='"Liberation Serif", serif' font-size="8" fill="#141414" stroke="#141414">195</text>
<line x1="381.5" y1="388.77" x2="383.3" y2="388.77" stroke="#3c3c3c" stroke-width="1.1"/>
<line x1="380.1" y1="372.87" x2="383.3" y2="372.87" stroke="#3c3c3c" stroke-width="1.1"/>
<text x="377.3" y="375.77" text-anchor="end" font-family='"Liberation Serif", serif' font-size="8" fill="#141414" stroke="#141414">200</text>
<line x1="381.5" y1="356.96" x2="383.3" y2="356.96" stroke="#3c3c3c" stroke-width="1.1"/>
<line x1="380.1" y1="341.05" x2="383.3" y2="341.05" stroke="#3c3c3c" stroke-width="1.1"/>
<text x="377.3" y="343.95" text-anchor="end" font-family='"Liberation Serif", serif' font-size="8" fill="#141414" stroke="#141414">205</text>
<line x1="381.5" y1="325.14" x2="383.3" y2="325.14" stroke="#3c3c3c" stroke-width="1.1"/>
<line x1="380.1" y1="309.23" x2="383.3" y2="309.23" stroke="#3c3c3c" stroke-width="1.1"/>
<text x="377.3" y="312.13" text-anchor="end" font-family='"Liberation Serif", serif' font-size="8" fill="#141414" stroke="#141414">210</text>
<line x1="381.5" y1="293.32" x2="383.3" y2="293.32" stroke="#3c3c3c" stroke-width="1.1"/>
<line x1="380.1" y1="277.42" x2="383.3" y2="277.42" stroke="#3c3c3c" stroke-width="1.1"/>
<text x="377.3" y="280.32" text-anchor="end" font-family='"Liberation Serif", serif' font-size="8" fill="#141414" stroke="#141414">215</text>
<line x1="381.5" y1="261.51" x2="383.3" y2="261.51" stroke="#3c3c3c" stroke-width="1.1"/>
<line x1="380.1" y1="245.60" x2="383.3" y2="245.60" stroke="#3c3c3c" stroke-width="1.1"/>
<text x="377.3" y="248.50" text-anchor="end" font-family='"Liberation Serif", serif' font-size="8" fill="#141414" stroke="#141414">220</text>
<line x1="666.0" y1="436.50" x2="669.2" y2="436.50" stroke="#ff0000" stroke-width="1.1"/>
<text x="672.5" y="439.40" font-family='"Liberation Serif", serif' font-size="8" fill="#ff0000" stroke="#ff0000">33.0</text>
<line x1="666.0" y1="426.96" x2="667.8" y2="426.96" stroke="#ff0000" stroke-width="1.1"/>
<line x1="666.0" y1="417.43" x2="669.2" y2="417.43" stroke="#ff0000" stroke-width="1.1"/>
<text x="672.5" y="420.33" font-family='"Liberation Serif", serif' font-size="8" fill="#ff0000" stroke="#ff0000">33.5</text>
<line x1="666.0" y1="407.89" x2="667.8" y2="407.89" stroke="#ff0000" stroke-width="1.1"/>
<line x1="666.0" y1="398.36" x2="669.2" y2="398.36" stroke="#ff0000" stroke-width="1.1"/>
<text x="672.5" y="401.26" font-family='"Liberation Serif", serif' font-size="8" fill="#ff0000" stroke="#ff0000">34.0</text>
<line x1="666.0" y1="388.82" x2="667.8" y2="388.82" stroke="#ff0000" stroke-width="1.1"/>
<line x1="666.0" y1="379.29" x2="669.2" y2="379.29" stroke="#ff0000" stroke-width="1.1"/>
<text x="672.5" y="382.19" font-family='"Liberation Serif", serif' font-size="8" fill="#ff0000" stroke="#ff0000">34.5</text>
<line x1="666.0" y1="369.75" x2="667.8" y2="369.75" stroke="#ff0000" stroke-width="1.1"/>
<line x1="666.0" y1="360.22" x2="669.2" y2="360.22" stroke="#ff0000" stroke-width="1.1"/>
<text x="672.5" y="363.12" font-family='"Liberation Serif", serif' font-size="8" fill="#ff0000" stroke="#ff0000">35.0</text>
<line x1="666.0" y1="350.69" x2="667.8" y2="350.69" stroke="#ff0000" stroke-width="1.1"/>
<line x1="666.0" y1="341.15" x2="669.2" y2="341.15" stroke="#ff0000" stroke-width="1.1"/>
<text x="672.5" y="344.05" font-family='"Liberation Serif", serif' font-size="8" fill="#ff0000" stroke="#ff0000">35.5</text>
<line x1="666.0" y1="331.62" x2="667.8" y2="331.62" stroke="#ff0000" stroke-width="1.1"/>
<line x1="666.0" y1="322.08" x2="669.2" y2="322.08" stroke="#ff0000" stroke-width="1.1"/>
<text x="672.5" y="324.98" font-family='"Liberation Serif", serif' font-size="8" fill="#ff0000" stroke="#ff0000">36.0</text>
<line x1="666.0" y1="312.55" x2="667.8" y2="312.55" stroke="#ff0000" stroke-width="1.1"/>
<line x1="666.0" y1="303.01" x2="669.2" y2="303.01" stroke="#ff0000" stroke-width="1.1"/>
<text x="672.5" y="305.91" font-family='"Liberation Serif", serif' font-size="8" fill="#ff0000" stroke="#ff0000">36.5</text>
<line x1="666.0" y1="293.48" x2="667.8" y2="293.48" stroke="#ff0000" stroke-width="1.1"/>
<line x1="666.0" y1="283.94" x2="669.2" y2="283.94" stroke="#ff0000" stroke-width="1.1"/>
<text x="672.5" y="286.84" font-family='"Liberation Serif", serif' font-size="8" fill="#ff0000" stroke="#ff0000">37.0</text>
<line x1="666.0" y1="274.41" x2="667.8" y2="274.41" stroke="#ff0000" stroke-width="1.1"/>
<line x1="666.0" y1="264.87" x2="669.2" y2="264.87" stroke="#ff0000" stroke-width="1.1"/>
<text x="672.5" y="267.77" font-family='"Liberation Serif", serif' font-size="8" fill="#ff0000" stroke="#ff0000">37.5</text>
<line x1="666.0" y1="255.34" x2="667.8" y2="255.34" stroke="#ff0000" stroke-width="1.1"/>
<line x1="666.0" y1="245.80" x2="669.2" y2="245.80" stroke="#ff0000" stroke-width="1.1"/>
<text x="672.5" y="248.70" font-family='"Liberation Serif", serif' font-size="8" fill="#ff0000" stroke="#ff0000">38.0</text>
<line x1="397.45" y1="436.6" x2="397.45" y2="438.6" stroke="#444444" stroke-width="1.1"/>
<line x1="411.60" y1="436.6" x2="411.60" y2="439.8" stroke="#444444" stroke-width="1.1"/>
<text x="411.60" y="449.1" text-anchor="middle" font-family='"Liberation Serif", serif' font-size="8" fill="#141414" stroke="#141414">0.1</text>
<line x1="425.75" y1="436.6" x2="425.75" y2="438.6" stroke="#444444" stroke-width="1.1"/>
<line x1="439.90" y1="436.6" x2="439.90" y2="439.8" stroke="#444444" stroke-width="1.1"/>
<text x="439.90" y="449.1" text-anchor="middle" font-family='"Liberation Serif", serif' font-size="8" fill="#141414" stroke="#141414">0.2</text>
<line x1="454.05" y1="436.6" x2="454.05" y2="438.6" stroke="#444444" stroke-width="1.1"/>
<line x1="468.20" y1="436.6" x2="468.20" y2="439.8" stroke="#444444" stroke-width="1.1"/>
<text x="468.20" y="449.1" text-anchor="middle" font-family='"Liberation Serif", serif' font-size="8" fill="#141414" stroke="#141414">0.3</text>
<line x1="482.35" y1="436.6" x2="482.35" y2="438.6" stroke="#444444" stroke-width="1.1"/>
<line x1="496.50" y1="436.6" x2="496.50" y2="439.8" stroke="#444444" stroke-width="1.1"/>
<text x="496.50" y="449.1" text-anchor="middle" font-family='"Liberation Serif", serif' font-size="8" fill="#141414" stroke="#141414">0.4</text>
<line x1="510.65" y1="436.6" x2="510.65" y2="438.6" stroke="#444444" stroke-width="1.1"/>
<line x1="524.80" y1="436.6" x2="524.80" y2="439.8" stroke="#444444" stroke-width="1.1"/>
<text x="524.80" y="449.1" text-anchor="middle" font-family='"Liberation Serif", serif' font-size="8" fill="#141414" stroke="#141414">0.5</text>
<line x1="538.95" y1="436.6" x2="538.95" y2="438.6" stroke="#444444" stroke-width="1.1"/>
<line x1="553.10" y1="436.6" x2="553.10" y2="439.8" stroke="#444444" stroke-width="1.1"/>
<text x="553.10" y="449.1" text-anchor="middle" font-family='"Liberation Serif", serif' font-size="8" fill="#141414" stroke="#141414">0.6</text>
<line x1="567.25" y1="436.6" x2="567.25" y2="438.6" stroke="#444444" stroke-width="1.1"/>
<line x1="581.40" y1="436.6" x2="581.40" y2="439.8" stroke="#444444" stroke-width="1.1"/>
<text x="581.40" y="449.1" text-anchor="middle" font-family='"Liberation Serif", serif' font-size="8" fill="#141414" stroke="#141414">0.7</text>
<line x1="595.55" y1="436.6" x2="595.55" y2="438.6" stroke="#444444" stroke-width="1.1"/>
<line x1="609.70" y1="436.6" x2="609.70" y2="439.8" stroke="#444444" stroke-width="1.1"/>
<text x="609.70" y="449.1" text-anchor="middle" font-family='"Liberation Serif", serif' font-size="8" fill="#141414" stroke="#141414">0.8</text>
<line x1="623.85" y1="436.6" x2="623.85" y2="438.6" stroke="#444444" stroke-width="1.1"/>
<line x1="638.00" y1="436.6" x2="638.00" y2="439.8" stroke="#444444" stroke-width="1.1"/>
<text x="638.00" y="449.1" text-anchor="middle" font-family='"Liberation Serif", serif' font-size="8" fill="#141414" stroke="#141414">0.9</text>
<line x1="652.15" y1="436.6" x2="652.15" y2="438.6" stroke="#444444" stroke-width="1.1"/>
<text x="524.6" y="466.0" text-anchor="middle" font-family='"Liberation Sans", sans-serif' font-size="9.90" fill="#141414" stroke="#141414">Conversion</text>
<text transform="translate(357.3 347.5) rotate(-90)" text-anchor="middle" font-family='"Liberation Sans", sans-serif' font-size="9.7" fill="#141414" stroke="#141414">E (kJ/mol)</text>
<text transform="translate(700.6 347.5) rotate(-90)" text-anchor="middle" font-family='"Liberation Sans", sans-serif' font-size="9.7" fill="#ff0000" stroke="#ff0000">lnA</text>
<text x="392.4" y="264.4" font-family='"Liberation Sans", sans-serif' font-size="10" fill="#141414" stroke="#141414">PE/PP (1:1)</text>
<line x1="395.0" y1="275.6" x2="418.0" y2="275.6" stroke="#111" stroke-width="1.1"/>
<rect x="403.70" y="272.80" width="5.6" height="5.6" fill="#fff"/>
<rect x="404.50" y="273.60" width="4" height="4" fill="#000"/>
<text x="420.0" y="279.1" font-family='"Liberation Sans", sans-serif' font-size="9.7" fill="#141414" stroke="#141414">E</text>
<line x1="395.0" y1="288.4" x2="418.0" y2="288.4" stroke="#ff0000" stroke-width="1.1"/>
<circle cx="406.5" cy="288.4" r="2.4" fill="#ff0000"/>
<text x="420.0" y="291.9" font-family='"Liberation Sans", sans-serif' font-size="9.7" fill="#141414" stroke="#141414">lnA</text>
<polyline points="411.6,395.4 439.6,368.0 468.0,317.0 496.0,279.4 524.4,279.6 552.6,282.4 581.0,297.0 609.6,306.7 638.0,347.6" fill="none" stroke="#333" stroke-width="1.15"/>
<rect x="408.50" y="392.30" width="6.2" height="6.2" fill="#fff"/>
<rect x="409.50" y="393.30" width="4.2" height="4.2" fill="#000"/>
<rect x="436.50" y="364.90" width="6.2" height="6.2" fill="#fff"/>
<rect x="437.50" y="365.90" width="4.2" height="4.2" fill="#000"/>
<rect x="464.90" y="313.90" width="6.2" height="6.2" fill="#fff"/>
<rect x="465.90" y="314.90" width="4.2" height="4.2" fill="#000"/>
<rect x="492.90" y="276.30" width="6.2" height="6.2" fill="#fff"/>
<rect x="493.90" y="277.30" width="4.2" height="4.2" fill="#000"/>
<rect x="521.30" y="276.50" width="6.2" height="6.2" fill="#fff"/>
<rect x="522.30" y="277.50" width="4.2" height="4.2" fill="#000"/>
<rect x="549.50" y="279.30" width="6.2" height="6.2" fill="#fff"/>
<rect x="550.50" y="280.30" width="4.2" height="4.2" fill="#000"/>
<rect x="577.90" y="293.90" width="6.2" height="6.2" fill="#fff"/>
<rect x="578.90" y="294.90" width="4.2" height="4.2" fill="#000"/>
<rect x="606.50" y="303.60" width="6.2" height="6.2" fill="#fff"/>
<rect x="607.50" y="304.60" width="4.2" height="4.2" fill="#000"/>
<rect x="634.90" y="344.50" width="6.2" height="6.2" fill="#fff"/>
<rect x="635.90" y="345.50" width="4.2" height="4.2" fill="#000"/>
<polyline points="411.6,393.6 439.6,381.0 468.0,338.4 496.0,308.0 524.4,314.0 552.6,321.4 581.0,340.8 609.6,357.0 638.0,404.8" fill="none" stroke="#ff0000" stroke-width="1.1"/>
<circle cx="411.6" cy="393.6" r="2.4" fill="#ff0000"/>
<circle cx="439.6" cy="381.0" r="2.4" fill="#ff0000"/>
<circle cx="468.0" cy="338.4" r="2.4" fill="#ff0000"/>
<circle cx="496.0" cy="308.0" r="2.4" fill="#ff0000"/>
<circle cx="524.4" cy="314.0" r="2.4" fill="#ff0000"/>
<circle cx="552.6" cy="321.4" r="2.4" fill="#ff0000"/>
<circle cx="581.0" cy="340.8" r="2.4" fill="#ff0000"/>
<circle cx="609.6" cy="357.0" r="2.4" fill="#ff0000"/>
<circle cx="638.0" cy="404.8" r="2.4" fill="#ff0000"/>
</g>
<g>
<line x1="35.0" y1="491.4" x2="316.0" y2="491.4" stroke="#555555" stroke-width="1.2"/>
<line x1="35.6" y1="490.8" x2="35.6" y2="681.6" stroke="#3c3c3c" stroke-width="1.3"/>
<line x1="35.6" y1="681.0" x2="316.0" y2="681.0" stroke="#444444" stroke-width="1.3"/>
<line x1="316.0" y1="490.8" x2="316.0" y2="681.6" stroke="#ff0000" stroke-width="1.3"/>
<line x1="32.4" y1="681.00" x2="35.6" y2="681.00" stroke="#3c3c3c" stroke-width="1.1"/>
<text x="29.6" y="683.90" text-anchor="end" font-family='"Liberation Sans", sans-serif' font-size="8" fill="#141414" stroke="#141414">180</text>
<line x1="33.8" y1="665.20" x2="35.6" y2="665.20" stroke="#3c3c3c" stroke-width="1.1"/>
<line x1="32.4" y1="649.40" x2="35.6" y2="649.40" stroke="#3c3c3c" stroke-width="1.1"/>
<text x="29.6" y="652.30" text-anchor="end" font-family='"Liberation Sans", sans-serif' font-size="8" fill="#141414" stroke="#141414">185</text>
<line x1="33.8" y1="633.60" x2="35.6" y2="633.60" stroke="#3c3c3c" stroke-width="1.1"/>
<line x1="32.4" y1="617.80" x2="35.6" y2="617.80" stroke="#3c3c3c" stroke-width="1.1"/>
<text x="29.6" y="620.70" text-anchor="end" font-family='"Liberation Sans", sans-serif' font-size="8" fill="#141414" stroke="#141414">190</text>
<line x1="33.8" y1="602.00" x2="35.6" y2="602.00" stroke="#3c3c3c" stroke-width="1.1"/>
<line x1="32.4" y1="586.20" x2="35.6" y2="586.20" stroke="#3c3c3c" stroke-width="1.1"/>
<text x="29.6" y="589.10" text-anchor="end" font-family='"Liberation Sans", sans-serif' font-size="8" fill="#141414" stroke="#141414">195</text>
<line x1="33.8" y1="570.40" x2="35.6" y2="570.40" stroke="#3c3c3c" stroke-width="1.1"/>
<line x1="32.4" y1="554.60" x2="35.6" y2="554.60" stroke="#3c3c3c" stroke-width="1.1"/>
<text x="29.6" y="557.50" text-anchor="end" font-family='"Liberation Sans", sans-serif' font-size="8" fill="#141414" stroke="#141414">200</text>
<line x1="33.8" y1="538.80" x2="35.6" y2="538.80" stroke="#3c3c3c" stroke-width="1.1"/>
<line x1="32.4" y1="523.00" x2="35.6" y2="523.00" stroke="#3c3c3c" stroke-width="1.1"/>
<text x="29.6" y="525.90" text-anchor="end" font-family='"Liberation Sans", sans-serif' font-size="8" fill="#141414" stroke="#141414">205</text>
<line x1="33.8" y1="507.20" x2="35.6" y2="507.20" stroke="#3c3c3c" stroke-width="1.1"/>
<line x1="32.4" y1="491.40" x2="35.6" y2="491.40" stroke="#3c3c3c" stroke-width="1.1"/>
<text x="29.6" y="494.30" text-anchor="end" font-family='"Liberation Sans", sans-serif' font-size="8" fill="#141414" stroke="#141414">210</text>
<line x1="316.0" y1="681.00" x2="319.2" y2="681.00" stroke="#ff0000" stroke-width="1.1"/>
<text x="322.5" y="683.90" font-family='"Liberation Sans", sans-serif' font-size="8" fill="#ff0000" stroke="#ff0000">32.0</text>
<line x1="316.0" y1="669.12" x2="317.8" y2="669.12" stroke="#ff0000" stroke-width="1.1"/>
<line x1="316.0" y1="657.25" x2="319.2" y2="657.25" stroke="#ff0000" stroke-width="1.1"/>
<text x="322.5" y="660.15" font-family='"Liberation Sans", sans-serif' font-size="8" fill="#ff0000" stroke="#ff0000">32.5</text>
<line x1="316.0" y1="645.38" x2="317.8" y2="645.38" stroke="#ff0000" stroke-width="1.1"/>
<line x1="316.0" y1="633.50" x2="319.2" y2="633.50" stroke="#ff0000" stroke-width="1.1"/>
<text x="322.5" y="636.40" font-family='"Liberation Sans", sans-serif' font-size="8" fill="#ff0000" stroke="#ff0000">33.0</text>
<line x1="316.0" y1="621.62" x2="317.8" y2="621.62" stroke="#ff0000" stroke-width="1.1"/>
<line x1="316.0" y1="609.75" x2="319.2" y2="609.75" stroke="#ff0000" stroke-width="1.1"/>
<text x="322.5" y="612.65" font-family='"Liberation Sans", sans-serif' font-size="8" fill="#ff0000" stroke="#ff0000">33.5</text>
<line x1="316.0" y1="597.88" x2="317.8" y2="597.88" stroke="#ff0000" stroke-width="1.1"/>
<line x1="316.0" y1="586.00" x2="319.2" y2="586.00" stroke="#ff0000" stroke-width="1.1"/>
<text x="322.5" y="588.90" font-family='"Liberation Sans", sans-serif' font-size="8" fill="#ff0000" stroke="#ff0000">34.0</text>
<line x1="316.0" y1="574.12" x2="317.8" y2="574.12" stroke="#ff0000" stroke-width="1.1"/>
<line x1="316.0" y1="562.25" x2="319.2" y2="562.25" stroke="#ff0000" stroke-width="1.1"/>
<text x="322.5" y="565.15" font-family='"Liberation Sans", sans-serif' font-size="8" fill="#ff0000" stroke="#ff0000">34.5</text>
<line x1="316.0" y1="550.38" x2="317.8" y2="550.38" stroke="#ff0000" stroke-width="1.1"/>
<line x1="316.0" y1="538.50" x2="319.2" y2="538.50" stroke="#ff0000" stroke-width="1.1"/>
<text x="322.5" y="541.40" font-family='"Liberation Sans", sans-serif' font-size="8" fill="#ff0000" stroke="#ff0000">35.0</text>
<line x1="316.0" y1="526.62" x2="317.8" y2="526.62" stroke="#ff0000" stroke-width="1.1"/>
<line x1="316.0" y1="514.75" x2="319.2" y2="514.75" stroke="#ff0000" stroke-width="1.1"/>
<text x="322.5" y="517.65" font-family='"Liberation Sans", sans-serif' font-size="8" fill="#ff0000" stroke="#ff0000">35.5</text>
<line x1="316.0" y1="502.88" x2="317.8" y2="502.88" stroke="#ff0000" stroke-width="1.1"/>
<line x1="316.0" y1="491.00" x2="319.2" y2="491.00" stroke="#ff0000" stroke-width="1.1"/>
<text x="322.5" y="493.90" font-family='"Liberation Sans", sans-serif' font-size="8" fill="#ff0000" stroke="#ff0000">36.0</text>
<line x1="49.35" y1="681.0" x2="49.35" y2="683.0" stroke="#444444" stroke-width="1.1"/>
<line x1="63.40" y1="681.0" x2="63.40" y2="684.2" stroke="#444444" stroke-width="1.1"/>
<text x="63.40" y="693.5" text-anchor="middle" font-family='"Liberation Sans", sans-serif' font-size="8" fill="#141414" stroke="#141414">0.1</text>
<line x1="77.45" y1="681.0" x2="77.45" y2="683.0" stroke="#444444" stroke-width="1.1"/>
<line x1="91.50" y1="681.0" x2="91.50" y2="684.2" stroke="#444444" stroke-width="1.1"/>
<text x="91.50" y="693.5" text-anchor="middle" font-family='"Liberation Sans", sans-serif' font-size="8" fill="#141414" stroke="#141414">0.2</text>
<line x1="105.55" y1="681.0" x2="105.55" y2="683.0" stroke="#444444" stroke-width="1.1"/>
<line x1="119.60" y1="681.0" x2="119.60" y2="684.2" stroke="#444444" stroke-width="1.1"/>
<text x="119.60" y="693.5" text-anchor="middle" font-family='"Liberation Sans", sans-serif' font-size="8" fill="#141414" stroke="#141414">0.3</text>
<line x1="133.65" y1="681.0" x2="133.65" y2="683.0" stroke="#444444" stroke-width="1.1"/>
<line x1="147.70" y1="681.0" x2="147.70" y2="684.2" stroke="#444444" stroke-width="1.1"/>
<text x="147.70" y="693.5" text-anchor="middle" font-family='"Liberation Sans", sans-serif' font-size="8" fill="#141414" stroke="#141414">0.4</text>
<line x1="161.75" y1="681.0" x2="161.75" y2="683.0" stroke="#444444" stroke-width="1.1"/>
<line x1="175.80" y1="681.0" x2="175.80" y2="684.2" stroke="#444444" stroke-width="1.1"/>
<text x="175.80" y="693.5" text-anchor="middle" font-family='"Liberation Sans", sans-serif' font-size="8" fill="#141414" stroke="#141414">0.5</text>
<line x1="189.85" y1="681.0" x2="189.85" y2="683.0" stroke="#444444" stroke-width="1.1"/>
<line x1="203.90" y1="681.0" x2="203.90" y2="684.2" stroke="#444444" stroke-width="1.1"/>
<text x="203.90" y="693.5" text-anchor="middle" font-family='"Liberation Sans", sans-serif' font-size="8" fill="#141414" stroke="#141414">0.6</text>
<line x1="217.95" y1="681.0" x2="217.95" y2="683.0" stroke="#444444" stroke-width="1.1"/>
<line x1="232.00" y1="681.0" x2="232.00" y2="684.2" stroke="#444444" stroke-width="1.1"/>
<text x="232.00" y="693.5" text-anchor="middle" font-family='"Liberation Sans", sans-serif' font-size="8" fill="#141414" stroke="#141414">0.7</text>
<line x1="246.05" y1="681.0" x2="246.05" y2="683.0" stroke="#444444" stroke-width="1.1"/>
<line x1="260.10" y1="681.0" x2="260.10" y2="684.2" stroke="#444444" stroke-width="1.1"/>
<text x="260.10" y="693.5" text-anchor="middle" font-family='"Liberation Sans", sans-serif' font-size="8" fill="#141414" stroke="#141414">0.8</text>
<line x1="274.15" y1="681.0" x2="274.15" y2="683.0" stroke="#444444" stroke-width="1.1"/>
<line x1="288.20" y1="681.0" x2="288.20" y2="684.2" stroke="#444444" stroke-width="1.1"/>
<text x="288.20" y="693.5" text-anchor="middle" font-family='"Liberation Sans", sans-serif' font-size="8" fill="#141414" stroke="#141414">0.9</text>
<line x1="302.25" y1="681.0" x2="302.25" y2="683.0" stroke="#444444" stroke-width="1.1"/>
<text x="175.8" y="710.0" text-anchor="middle" font-family='"Liberation Sans", sans-serif' font-size="9.70" fill="#141414" stroke="#141414">Conversion</text>
<text transform="translate(8.1 592.7) rotate(-90)" text-anchor="middle" font-family='"Liberation Sans", sans-serif' font-size="9.7" fill="#141414" stroke="#141414">E (kJ/mol)</text>
<text transform="translate(350.6 592.8) rotate(-90)" text-anchor="middle" font-family='"Liberation Sans", sans-serif' font-size="9.7" fill="#ff0000" stroke="#ff0000">lnA</text>
<text x="43.6" y="506.4" font-family='"Liberation Sans", sans-serif' font-size="10" fill="#141414" stroke="#141414">PE/PP (1:2)</text>
<line x1="45.0" y1="518.0" x2="68.0" y2="518.0" stroke="#111" stroke-width="1.1"/>
<rect x="53.70" y="515.20" width="5.6" height="5.6" fill="#fff"/>
<rect x="54.50" y="516.00" width="4" height="4" fill="#000"/>
<text x="70.0" y="521.5" font-family='"Liberation Sans", sans-serif' font-size="9.7" fill="#141414" stroke="#141414">E</text>
<line x1="45.0" y1="531.0" x2="68.0" y2="531.0" stroke="#ff0000" stroke-width="1.1"/>
<circle cx="56.5" cy="531.0" r="2.4" fill="#ff0000"/>
<text x="70.0" y="534.5" font-family='"Liberation Sans", sans-serif' font-size="9.7" fill="#141414" stroke="#141414">lnA</text>
<polyline points="63.4,614.4 91.6,591.6 119.6,567.0 147.6,547.0 175.6,538.0 203.6,528.4 232.0,523.4 260.0,521.6 288.2,561.6" fill="none" stroke="#333" stroke-width="1.15"/>
<rect x="60.30" y="611.30" width="6.2" height="6.2" fill="#fff"/>
<rect x="61.30" y="612.30" width="4.2" height="4.2" fill="#000"/>
<rect x="88.50" y="588.50" width="6.2" height="6.2" fill="#fff"/>
<rect x="89.50" y="589.50" width="4.2" height="4.2" fill="#000"/>
<rect x="116.50" y="563.90" width="6.2" height="6.2" fill="#fff"/>
<rect x="117.50" y="564.90" width="4.2" height="4.2" fill="#000"/>
<rect x="144.50" y="543.90" width="6.2" height="6.2" fill="#fff"/>
<rect x="145.50" y="544.90" width="4.2" height="4.2" fill="#000"/>
<rect x="172.50" y="534.90" width="6.2" height="6.2" fill="#fff"/>
<rect x="173.50" y="535.90" width="4.2" height="4.2" fill="#000"/>
<rect x="200.50" y="525.30" width="6.2" height="6.2" fill="#fff"/>
<rect x="201.50" y="526.30" width="4.2" height="4.2" fill="#000"/>
<rect x="228.90" y="520.30" width="6.2" height="6.2" fill="#fff"/>
<rect x="229.90" y="521.30" width="4.2" height="4.2" fill="#000"/>
<rect x="256.90" y="518.50" width="6.2" height="6.2" fill="#fff"/>
<rect x="257.90" y="519.50" width="4.2" height="4.2" fill="#000"/>
<rect x="285.10" y="558.50" width="6.2" height="6.2" fill="#fff"/>
<rect x="286.10" y="559.50" width="4.2" height="4.2" fill="#000"/>
<polyline points="63.4,618.6 91.6,608.6 119.6,589.0 147.6,573.0 175.6,569.6 203.6,565.0 232.0,564.8 260.0,570.0 288.2,628.0" fill="none" stroke="#ff0000" stroke-width="1.1"/>
<circle cx="63.4" cy="618.6" r="2.4" fill="#ff0000"/>
<circle cx="91.6" cy="608.6" r="2.4" fill="#ff0000"/>
<circle cx="119.6" cy="589.0" r="2.4" fill="#ff0000"/>
<circle cx="147.6" cy="573.0" r="2.4" fill="#ff0000"/>
<circle cx="175.6" cy="569.6" r="2.4" fill="#ff0000"/>
<circle cx="203.6" cy="565.0" r="2.4" fill="#ff0000"/>
<circle cx="232.0" cy="564.8" r="2.4" fill="#ff0000"/>
<circle cx="260.0" cy="570.0" r="2.4" fill="#ff0000"/>
<circle cx="288.2" cy="628.0" r="2.4" fill="#ff0000"/>
</g>
<g>
<line x1="389.6" y1="493.7" x2="668.4" y2="493.7" stroke="#555555" stroke-width="1.2"/>
<line x1="390.2" y1="493.1" x2="390.2" y2="682.1" stroke="#3c3c3c" stroke-width="1.3"/>
<line x1="390.2" y1="681.5" x2="668.4" y2="681.5" stroke="#444444" stroke-width="1.3"/>
<line x1="668.4" y1="493.1" x2="668.4" y2="682.1" stroke="#ff0000" stroke-width="1.3"/>
<line x1="387.0" y1="681.40" x2="390.2" y2="681.40" stroke="#3c3c3c" stroke-width="1.1"/>
<text x="384.2" y="684.30" text-anchor="end" font-family='"Liberation Sans", sans-serif' font-size="8" fill="#141414" stroke="#141414">135</text>
<line x1="388.4" y1="671.49" x2="390.2" y2="671.49" stroke="#3c3c3c" stroke-width="1.1"/>
<line x1="387.0" y1="661.58" x2="390.2" y2="661.58" stroke="#3c3c3c" stroke-width="1.1"/>
<text x="384.2" y="664.48" text-anchor="end" font-family='"Liberation Sans", sans-serif' font-size="8" fill="#141414" stroke="#141414">140</text>
<line x1="388.4" y1="651.67" x2="390.2" y2="651.67" stroke="#3c3c3c" stroke-width="1.1"/>
<line x1="387.0" y1="641.76" x2="390.2" y2="641.76" stroke="#3c3c3c" stroke-width="1.1"/>
<text x="384.2" y="644.66" text-anchor="end" font-family='"Liberation Sans", sans-serif' font-size="8" fill="#141414" stroke="#141414">145</text>
<line x1="388.4" y1="631.84" x2="390.2" y2="631.84" stroke="#3c3c3c" stroke-width="1.1"/>
<line x1="387.0" y1="621.93" x2="390.2" y2="621.93" stroke="#3c3c3c" stroke-width="1.1"/>
<text x="384.2" y="624.83" text-anchor="end" font-family='"Liberation Sans", sans-serif' font-size="8" fill="#141414" stroke="#141414">150</text>
<line x1="388.4" y1="612.02" x2="390.2" y2="612.02" stroke="#3c3c3c" stroke-width="1.1"/>
<line x1="387.0" y1="602.11" x2="390.2" y2="602.11" stroke="#3c3c3c" stroke-width="1.1"/>
<text x="384.2" y="605.01" text-anchor="end" font-family='"Liberation Sans", sans-serif' font-size="8" fill="#141414" stroke="#141414">155</text>
<line x1="388.4" y1="592.20" x2="390.2" y2="592.20" stroke="#3c3c3c" stroke-width="1.1"/>
<line x1="387.0" y1="582.29" x2="390.2" y2="582.29" stroke="#3c3c3c" stroke-width="1.1"/>
<text x="384.2" y="585.19" text-anchor="end" font-family='"Liberation Sans", sans-serif' font-size="8" fill="#141414" stroke="#141414">160</text>
<line x1="388.4" y1="572.38" x2="390.2" y2="572.38" stroke="#3c3c3c" stroke-width="1.1"/>
<line x1="387.0" y1="562.47" x2="390.2" y2="562.47" stroke="#3c3c3c" stroke-width="1.1"/>
<text x="384.2" y="565.37" text-anchor="end" font-family='"Liberation Sans", sans-serif' font-size="8" fill="#141414" stroke="#141414">165</text>
<line x1="388.4" y1="552.56" x2="390.2" y2="552.56" stroke="#3c3c3c" stroke-width="1.1"/>
<line x1="387.0" y1="542.64" x2="390.2" y2="542.64" stroke="#3c3c3c" stroke-width="1.1"/>
<text x="384.2" y="545.54" text-anchor="end" font-family='"Liberation Sans", sans-serif' font-size="8" fill="#141414" stroke="#141414">170</text>
<line x1="388.4" y1="532.73" x2="390.2" y2="532.73" stroke="#3c3c3c" stroke-width="1.1"/>
<line x1="387.0" y1="522.82" x2="390.2" y2="522.82" stroke="#3c3c3c" stroke-width="1.1"/>
<text x="384.2" y="525.72" text-anchor="end" font-family='"Liberation Sans", sans-serif' font-size="8" fill="#141414" stroke="#141414">175</text>
<line x1="388.4" y1="512.91" x2="390.2" y2="512.91" stroke="#3c3c3c" stroke-width="1.1"/>
<line x1="387.0" y1="503.00" x2="390.2" y2="503.00" stroke="#3c3c3c" stroke-width="1.1"/>
<text x="384.2" y="505.90" text-anchor="end" font-family='"Liberation Sans", sans-serif' font-size="8" fill="#141414" stroke="#141414">180</text>
<line x1="668.4" y1="681.50" x2="671.6" y2="681.50" stroke="#ff0000" stroke-width="1.1"/>
<text x="674.9" y="684.40" font-family='"Liberation Sans", sans-serif' font-size="8" fill="#ff0000" stroke="#ff0000">25</text>
<line x1="668.4" y1="665.86" x2="670.2" y2="665.86" stroke="#ff0000" stroke-width="1.1"/>
<line x1="668.4" y1="650.22" x2="671.6" y2="650.22" stroke="#ff0000" stroke-width="1.1"/>
<text x="674.9" y="653.12" font-family='"Liberation Sans", sans-serif' font-size="8" fill="#ff0000" stroke="#ff0000">26</text>
<line x1="668.4" y1="634.58" x2="670.2" y2="634.58" stroke="#ff0000" stroke-width="1.1"/>
<line x1="668.4" y1="618.93" x2="671.6" y2="618.93" stroke="#ff0000" stroke-width="1.1"/>
<text x="674.9" y="621.83" font-family='"Liberation Sans", sans-serif' font-size="8" fill="#ff0000" stroke="#ff0000">27</text>
<line x1="668.4" y1="603.29" x2="670.2" y2="603.29" stroke="#ff0000" stroke-width="1.1"/>
<line x1="668.4" y1="587.65" x2="671.6" y2="587.65" stroke="#ff0000" stroke-width="1.1"/>
<text x="674.9" y="590.55" font-family='"Liberation Sans", sans-serif' font-size="8" fill="#ff0000" stroke="#ff0000">28</text>
<line x1="668.4" y1="572.01" x2="670.2" y2="572.01" stroke="#ff0000" stroke-width="1.1"/>
<line x1="668.4" y1="556.37" x2="671.6" y2="556.37" stroke="#ff0000" stroke-width="1.1"/>
<text x="674.9" y="559.27" font-family='"Liberation Sans", sans-serif' font-size="8" fill="#ff0000" stroke="#ff0000">29</text>
<line x1="668.4" y1="540.73" x2="670.2" y2="540.73" stroke="#ff0000" stroke-width="1.1"/>
<line x1="668.4" y1="525.08" x2="671.6" y2="525.08" stroke="#ff0000" stroke-width="1.1"/>
<text x="674.9" y="527.98" font-family='"Liberation Sans", sans-serif' font-size="8" fill="#ff0000" stroke="#ff0000">30</text>
<line x1="668.4" y1="509.44" x2="670.2" y2="509.44" stroke="#ff0000" stroke-width="1.1"/>
<line x1="668.4" y1="493.80" x2="671.6" y2="493.80" stroke="#ff0000" stroke-width="1.1"/>
<text x="674.9" y="496.70" font-family='"Liberation Sans", sans-serif' font-size="8" fill="#ff0000" stroke="#ff0000">31</text>
<line x1="404.11" y1="681.5" x2="404.11" y2="683.5" stroke="#444444" stroke-width="1.1"/>
<line x1="418.00" y1="681.5" x2="418.00" y2="684.7" stroke="#444444" stroke-width="1.1"/>
<text x="418.00" y="694.0" text-anchor="middle" font-family='"Liberation Sans", sans-serif' font-size="8" fill="#141414" stroke="#141414">0.1</text>
<line x1="431.89" y1="681.5" x2="431.89" y2="683.5" stroke="#444444" stroke-width="1.1"/>
<line x1="445.77" y1="681.5" x2="445.77" y2="684.7" stroke="#444444" stroke-width="1.1"/>
<text x="445.77" y="694.0" text-anchor="middle" font-family='"Liberation Sans", sans-serif' font-size="8" fill="#141414" stroke="#141414">0.2</text>
<line x1="459.66" y1="681.5" x2="459.66" y2="683.5" stroke="#444444" stroke-width="1.1"/>
<line x1="473.55" y1="681.5" x2="473.55" y2="684.7" stroke="#444444" stroke-width="1.1"/>
<text x="473.55" y="694.0" text-anchor="middle" font-family='"Liberation Sans", sans-serif' font-size="8" fill="#141414" stroke="#141414">0.3</text>
<line x1="487.44" y1="681.5" x2="487.44" y2="683.5" stroke="#444444" stroke-width="1.1"/>
<line x1="501.33" y1="681.5" x2="501.33" y2="684.7" stroke="#444444" stroke-width="1.1"/>
<text x="501.33" y="694.0" text-anchor="middle" font-family='"Liberation Sans", sans-serif' font-size="8" fill="#141414" stroke="#141414">0.4</text>
<line x1="515.21" y1="681.5" x2="515.21" y2="683.5" stroke="#444444" stroke-width="1.1"/>
<line x1="529.10" y1="681.5" x2="529.10" y2="684.7" stroke="#444444" stroke-width="1.1"/>
<text x="529.10" y="694.0" text-anchor="middle" font-family='"Liberation Sans", sans-serif' font-size="8" fill="#141414" stroke="#141414">0.5</text>
<line x1="542.99" y1="681.5" x2="542.99" y2="683.5" stroke="#444444" stroke-width="1.1"/>
<line x1="556.88" y1="681.5" x2="556.88" y2="684.7" stroke="#444444" stroke-width="1.1"/>
<text x="556.88" y="694.0" text-anchor="middle" font-family='"Liberation Sans", sans-serif' font-size="8" fill="#141414" stroke="#141414">0.6</text>
<line x1="570.76" y1="681.5" x2="570.76" y2="683.5" stroke="#444444" stroke-width="1.1"/>
<line x1="584.65" y1="681.5" x2="584.65" y2="684.7" stroke="#444444" stroke-width="1.1"/>
<text x="584.65" y="694.0" text-anchor="middle" font-family='"Liberation Sans", sans-serif' font-size="8" fill="#141414" stroke="#141414">0.7</text>
<line x1="598.54" y1="681.5" x2="598.54" y2="683.5" stroke="#444444" stroke-width="1.1"/>
<line x1="612.43" y1="681.5" x2="612.43" y2="684.7" stroke="#444444" stroke-width="1.1"/>
<text x="612.43" y="694.0" text-anchor="middle" font-family='"Liberation Sans", sans-serif' font-size="8" fill="#141414" stroke="#141414">0.8</text>
<line x1="626.31" y1="681.5" x2="626.31" y2="683.5" stroke="#444444" stroke-width="1.1"/>
<line x1="640.20" y1="681.5" x2="640.20" y2="684.7" stroke="#444444" stroke-width="1.1"/>
<text x="640.20" y="694.0" text-anchor="middle" font-family='"Liberation Sans", sans-serif' font-size="8" fill="#141414" stroke="#141414">0.9</text>
<line x1="654.09" y1="681.5" x2="654.09" y2="683.5" stroke="#444444" stroke-width="1.1"/>
<text x="529.3" y="710.4" text-anchor="middle" font-family='"Liberation Sans", sans-serif' font-size="9.70" fill="#141414" stroke="#141414">Conversion</text>
<text transform="translate(363.2 594.2) rotate(-90)" text-anchor="middle" font-family='"Liberation Sans", sans-serif' font-size="9.7" fill="#141414" stroke="#141414">E (kJ/mol)</text>
<text transform="translate(696.0 594.4) rotate(-90)" text-anchor="middle" font-family='"Liberation Sans", sans-serif' font-size="9.7" fill="#ff0000" stroke="#ff0000">lnA</text>
<text x="399.0" y="511.4" font-family='"Liberation Sans", sans-serif' font-size="10" fill="#141414" stroke="#141414">PE/PP (1:3)</text>
<line x1="400.4" y1="521.6" x2="423.4" y2="521.6" stroke="#111" stroke-width="1.1"/>
<rect x="409.10" y="518.80" width="5.6" height="5.6" fill="#fff"/>
<rect x="409.90" y="519.60" width="4" height="4" fill="#000"/>
<text x="425.4" y="525.1" font-family='"Liberation Sans", sans-serif' font-size="9.7" fill="#141414" stroke="#141414">E</text>
<line x1="400.4" y1="533.6" x2="423.4" y2="533.6" stroke="#ff0000" stroke-width="1.1"/>
<circle cx="411.9" cy="533.6" r="2.4" fill="#ff0000"/>
<text x="425.4" y="537.1" font-family='"Liberation Sans", sans-serif' font-size="9.7" fill="#141414" stroke="#141414">lnA</text>
<polyline points="418.0,630.4 446.0,571.0 473.6,562.7 501.6,544.0 529.0,534.0 557.0,533.0 585.1,528.4 612.7,518.7 640.2,512.3" fill="none" stroke="#333" stroke-width="1.15"/>
<rect x="414.90" y="627.30" width="6.2" height="6.2" fill="#fff"/>
<rect x="415.90" y="628.30" width="4.2" height="4.2" fill="#000"/>
<rect x="442.90" y="567.90" width="6.2" height="6.2" fill="#fff"/>
<rect x="443.90" y="568.90" width="4.2" height="4.2" fill="#000"/>
<rect x="470.50" y="559.60" width="6.2" height="6.2" fill="#fff"/>
<rect x="471.50" y="560.60" width="4.2" height="4.2" fill="#000"/>
<rect x="498.50" y="540.90" width="6.2" height="6.2" fill="#fff"/>
<rect x="499.50" y="541.90" width="4.2" height="4.2" fill="#000"/>
<rect x="525.90" y="530.90" width="6.2" height="6.2" fill="#fff"/>
<rect x="526.90" y="531.90" width="4.2" height="4.2" fill="#000"/>
<rect x="553.90" y="529.90" width="6.2" height="6.2" fill="#fff"/>
<rect x="554.90" y="530.90" width="4.2" height="4.2" fill="#000"/>
<rect x="582.00" y="525.30" width="6.2" height="6.2" fill="#fff"/>
<rect x="583.00" y="526.30" width="4.2" height="4.2" fill="#000"/>
<rect x="609.60" y="515.60" width="6.2" height="6.2" fill="#fff"/>
<rect x="610.60" y="516.60" width="4.2" height="4.2" fill="#000"/>
<rect x="637.10" y="509.20" width="6.2" height="6.2" fill="#fff"/>
<rect x="638.10" y="510.20" width="4.2" height="4.2" fill="#000"/>
<polyline points="418.0,642.0 446.0,574.4 473.6,570.6 501.6,551.6 529.0,543.6 557.0,545.0 585.1,543.7 612.7,535.4 640.2,533.7" fill="none" stroke="#ff0000" stroke-width="1.1"/>
<circle cx="418.0" cy="642.0" r="2.4" fill="#ff0000"/>
<circle cx="446.0" cy="574.4" r="2.4" fill="#ff0000"/>
<circle cx="473.6" cy="570.6" r="2.4" fill="#ff0000"/>
<circle cx="501.6" cy="551.6" r="2.4" fill="#ff0000"/>
<circle cx="529.0" cy="543.6" r="2.4" fill="#ff0000"/>
<circle cx="557.0" cy="545.0" r="2.4" fill="#ff0000"/>
<circle cx="585.1" cy="543.7" r="2.4" fill="#ff0000"/>
<circle cx="612.7" cy="535.4" r="2.4" fill="#ff0000"/>
<circle cx="640.2" cy="533.7" r="2.4" fill="#ff0000"/>
</g>
<g>
<line x1="35.8" y1="733.8" x2="322.0" y2="733.8" stroke="#555555" stroke-width="1.2"/>
<line x1="36.4" y1="733.2" x2="36.4" y2="927.2" stroke="#3c3c3c" stroke-width="1.3"/>
<line x1="36.4" y1="926.6" x2="322.0" y2="926.6" stroke="#444444" stroke-width="1.3"/>
<line x1="322.0" y1="733.2" x2="322.0" y2="927.2" stroke="#ff0000" stroke-width="1.3"/>
<line x1="34.6" y1="917.48" x2="36.4" y2="917.48" stroke="#3c3c3c" stroke-width="1.1"/>
<line x1="33.2" y1="902.40" x2="36.4" y2="902.40" stroke="#3c3c3c" stroke-width="1.1"/>
<text x="30.4" y="905.30" text-anchor="end" font-family='"Liberation Sans", sans-serif' font-size="8" fill="#141414" stroke="#141414">100</text>
<line x1="34.6" y1="887.32" x2="36.4" y2="887.32" stroke="#3c3c3c" stroke-width="1.1"/>
<line x1="33.2" y1="872.24" x2="36.4" y2="872.24" stroke="#3c3c3c" stroke-width="1.1"/>
<text x="30.4" y="875.14" text-anchor="end" font-family='"Liberation Sans", sans-serif' font-size="8" fill="#141414" stroke="#141414">125</text>
<line x1="34.6" y1="857.16" x2="36.4" y2="857.16" stroke="#3c3c3c" stroke-width="1.1"/>
<line x1="33.2" y1="842.08" x2="36.4" y2="842.08" stroke="#3c3c3c" stroke-width="1.1"/>
<text x="30.4" y="844.98" text-anchor="end" font-family='"Liberation Sans", sans-serif' font-size="8" fill="#141414" stroke="#141414">150</text>
<line x1="34.6" y1="827.00" x2="36.4" y2="827.00" stroke="#3c3c3c" stroke-width="1.1"/>
<line x1="33.2" y1="811.92" x2="36.4" y2="811.92" stroke="#3c3c3c" stroke-width="1.1"/>
<text x="30.4" y="814.82" text-anchor="end" font-family='"Liberation Sans", sans-serif' font-size="8" fill="#141414" stroke="#141414">175</text>
<line x1="34.6" y1="796.84" x2="36.4" y2="796.84" stroke="#3c3c3c" stroke-width="1.1"/>
<line x1="33.2" y1="781.76" x2="36.4" y2="781.76" stroke="#3c3c3c" stroke-width="1.1"/>
<text x="30.4" y="784.66" text-anchor="end" font-family='"Liberation Sans", sans-serif' font-size="8" fill="#141414" stroke="#141414">200</text>
<line x1="34.6" y1="766.68" x2="36.4" y2="766.68" stroke="#3c3c3c" stroke-width="1.1"/>
<line x1="33.2" y1="751.60" x2="36.4" y2="751.60" stroke="#3c3c3c" stroke-width="1.1"/>
<text x="30.4" y="754.50" text-anchor="end" font-family='"Liberation Sans", sans-serif' font-size="8" fill="#141414" stroke="#141414">225</text>
<line x1="34.6" y1="736.52" x2="36.4" y2="736.52" stroke="#3c3c3c" stroke-width="1.1"/>
<line x1="322.0" y1="926.60" x2="325.2" y2="926.60" stroke="#ff0000" stroke-width="1.1"/>
<text x="328.5" y="929.50" font-family='"Liberation Sans", sans-serif' font-size="8" fill="#ff0000" stroke="#ff0000">20</text>
<line x1="322.0" y1="917.83" x2="323.8" y2="917.83" stroke="#ff0000" stroke-width="1.1"/>
<line x1="322.0" y1="909.05" x2="325.2" y2="909.05" stroke="#ff0000" stroke-width="1.1"/>
<text x="328.5" y="911.95" font-family='"Liberation Sans", sans-serif' font-size="8" fill="#ff0000" stroke="#ff0000">22</text>
<line x1="322.0" y1="900.28" x2="323.8" y2="900.28" stroke="#ff0000" stroke-width="1.1"/>
<line x1="322.0" y1="891.51" x2="325.2" y2="891.51" stroke="#ff0000" stroke-width="1.1"/>
<text x="328.5" y="894.41" font-family='"Liberation Sans", sans-serif' font-size="8" fill="#ff0000" stroke="#ff0000">24</text>
<line x1="322.0" y1="882.74" x2="323.8" y2="882.74" stroke="#ff0000" stroke-width="1.1"/>
<line x1="322.0" y1="873.96" x2="325.2" y2="873.96" stroke="#ff0000" stroke-width="1.1"/>
<text x="328.5" y="876.86" font-family='"Liberation Sans", sans-serif' font-size="8" fill="#ff0000" stroke="#ff0000">26</text>
<line x1="322.0" y1="865.19" x2="323.8" y2="865.19" stroke="#ff0000" stroke-width="1.1"/>
<line x1="322.0" y1="856.42" x2="325.2" y2="856.42" stroke="#ff0000" stroke-width="1.1"/>
<text x="328.5" y="859.32" font-family='"Liberation Sans", sans-serif' font-size="8" fill="#ff0000" stroke="#ff0000">28</text>
<line x1="322.0" y1="847.65" x2="323.8" y2="847.65" stroke="#ff0000" stroke-width="1.1"/>
<line x1="322.0" y1="838.87" x2="325.2" y2="838.87" stroke="#ff0000" stroke-width="1.1"/>
<text x="328.5" y="841.77" font-family='"Liberation Sans", sans-serif' font-size="8" fill="#ff0000" stroke="#ff0000">30</text>
<line x1="322.0" y1="830.10" x2="323.8" y2="830.10" stroke="#ff0000" stroke-width="1.1"/>
<line x1="322.0" y1="821.33" x2="325.2" y2="821.33" stroke="#ff0000" stroke-width="1.1"/>
<text x="328.5" y="824.23" font-family='"Liberation Sans", sans-serif' font-size="8" fill="#ff0000" stroke="#ff0000">32</text>
<line x1="322.0" y1="812.55" x2="323.8" y2="812.55" stroke="#ff0000" stroke-width="1.1"/>
<line x1="322.0" y1="803.78" x2="325.2" y2="803.78" stroke="#ff0000" stroke-width="1.1"/>
<text x="328.5" y="806.68" font-family='"Liberation Sans", sans-serif' font-size="8" fill="#ff0000" stroke="#ff0000">34</text>
<line x1="322.0" y1="795.01" x2="323.8" y2="795.01" stroke="#ff0000" stroke-width="1.1"/>
<line x1="322.0" y1="786.24" x2="325.2" y2="786.24" stroke="#ff0000" stroke-width="1.1"/>
<text x="328.5" y="789.14" font-family='"Liberation Sans", sans-serif' font-size="8" fill="#ff0000" stroke="#ff0000">36</text>
<line x1="322.0" y1="777.46" x2="323.8" y2="777.46" stroke="#ff0000" stroke-width="1.1"/>
<line x1="322.0" y1="768.69" x2="325.2" y2="768.69" stroke="#ff0000" stroke-width="1.1"/>
<text x="328.5" y="771.59" font-family='"Liberation Sans", sans-serif' font-size="8" fill="#ff0000" stroke="#ff0000">38</text>
<line x1="322.0" y1="759.92" x2="323.8" y2="759.92" stroke="#ff0000" stroke-width="1.1"/>
<line x1="322.0" y1="751.15" x2="325.2" y2="751.15" stroke="#ff0000" stroke-width="1.1"/>
<text x="328.5" y="754.05" font-family='"Liberation Sans", sans-serif' font-size="8" fill="#ff0000" stroke="#ff0000">40</text>
<line x1="322.0" y1="742.37" x2="323.8" y2="742.37" stroke="#ff0000" stroke-width="1.1"/>
<line x1="322.0" y1="733.60" x2="325.2" y2="733.60" stroke="#ff0000" stroke-width="1.1"/>
<text x="328.5" y="736.50" font-family='"Liberation Sans", sans-serif' font-size="8" fill="#ff0000" stroke="#ff0000">42</text>
<line x1="50.10" y1="926.6" x2="50.10" y2="928.6" stroke="#444444" stroke-width="1.1"/>
<line x1="64.40" y1="926.6" x2="64.40" y2="929.8" stroke="#444444" stroke-width="1.1"/>
<text x="64.40" y="939.1" text-anchor="middle" font-family='"Liberation Sans", sans-serif' font-size="8" fill="#141414" stroke="#141414">0.1</text>
<line x1="78.70" y1="926.6" x2="78.70" y2="928.6" stroke="#444444" stroke-width="1.1"/>
<line x1="93.00" y1="926.6" x2="93.00" y2="929.8" stroke="#444444" stroke-width="1.1"/>
<text x="93.00" y="939.1" text-anchor="middle" font-family='"Liberation Sans", sans-serif' font-size="8" fill="#141414" stroke="#141414">0.2</text>
<line x1="107.30" y1="926.6" x2="107.30" y2="928.6" stroke="#444444" stroke-width="1.1"/>
<line x1="121.60" y1="926.6" x2="121.60" y2="929.8" stroke="#444444" stroke-width="1.1"/>
<text x="121.60" y="939.1" text-anchor="middle" font-family='"Liberation Sans", sans-serif' font-size="8" fill="#141414" stroke="#141414">0.3</text>
<line x1="135.90" y1="926.6" x2="135.90" y2="928.6" stroke="#444444" stroke-width="1.1"/>
<line x1="150.20" y1="926.6" x2="150.20" y2="929.8" stroke="#444444" stroke-width="1.1"/>
<text x="150.20" y="939.1" text-anchor="middle" font-family='"Liberation Sans", sans-serif' font-size="8" fill="#141414" stroke="#141414">0.4</text>
<line x1="164.50" y1="926.6" x2="164.50" y2="928.6" stroke="#444444" stroke-width="1.1"/>
<line x1="178.80" y1="926.6" x2="178.80" y2="929.8" stroke="#444444" stroke-width="1.1"/>
<text x="178.80" y="939.1" text-anchor="middle" font-family='"Liberation Sans", sans-serif' font-size="8" fill="#141414" stroke="#141414">0.5</text>
<line x1="193.10" y1="926.6" x2="193.10" y2="928.6" stroke="#444444" stroke-width="1.1"/>
<line x1="207.40" y1="926.6" x2="207.40" y2="929.8" stroke="#444444" stroke-width="1.1"/>
<text x="207.40" y="939.1" text-anchor="middle" font-family='"Liberation Sans", sans-serif' font-size="8" fill="#141414" stroke="#141414">0.6</text>
<line x1="221.70" y1="926.6" x2="221.70" y2="928.6" stroke="#444444" stroke-width="1.1"/>
<line x1="236.00" y1="926.6" x2="236.00" y2="929.8" stroke="#444444" stroke-width="1.1"/>
<text x="236.00" y="939.1" text-anchor="middle" font-family='"Liberation Sans", sans-serif' font-size="8" fill="#141414" stroke="#141414">0.7</text>
<line x1="250.30" y1="926.6" x2="250.30" y2="928.6" stroke="#444444" stroke-width="1.1"/>
<line x1="264.60" y1="926.6" x2="264.60" y2="929.8" stroke="#444444" stroke-width="1.1"/>
<text x="264.60" y="939.1" text-anchor="middle" font-family='"Liberation Sans", sans-serif' font-size="8" fill="#141414" stroke="#141414">0.8</text>
<line x1="278.90" y1="926.6" x2="278.90" y2="928.6" stroke="#444444" stroke-width="1.1"/>
<line x1="293.20" y1="926.6" x2="293.20" y2="929.8" stroke="#444444" stroke-width="1.1"/>
<text x="293.20" y="939.1" text-anchor="middle" font-family='"Liberation Sans", sans-serif' font-size="8" fill="#141414" stroke="#141414">0.9</text>
<line x1="307.50" y1="926.6" x2="307.50" y2="928.6" stroke="#444444" stroke-width="1.1"/>
<text x="179.2" y="956.0" text-anchor="middle" font-family='"Liberation Sans", sans-serif' font-size="10.20" fill="#141414" stroke="#141414">Conversion</text>
<text transform="translate(8.1 836.0) rotate(-90)" text-anchor="middle" font-family='"Liberation Sans", sans-serif' font-size="9.7" fill="#141414" stroke="#141414">E (kJ/mol)</text>
<text transform="translate(350.6 837.0) rotate(-90)" text-anchor="middle" font-family='"Liberation Sans", sans-serif' font-size="9.7" fill="#ff0000" stroke="#ff0000">lnA</text>
<text x="44.4" y="749.0" font-family='"Liberation Sans", sans-serif' font-size="10" fill="#141414" stroke="#141414">PE/PP/PVC (3:2:1)</text>
<line x1="45.6" y1="759.6" x2="68.6" y2="759.6" stroke="#111" stroke-width="1.1"/>
<rect x="54.30" y="756.80" width="5.6" height="5.6" fill="#fff"/>
<rect x="55.10" y="757.60" width="4" height="4" fill="#000"/>
<text x="70.6" y="763.1" font-family='"Liberation Sans", sans-serif' font-size="9.7" fill="#141414" stroke="#141414">E</text>
<line x1="45.6" y1="770.4" x2="68.6" y2="770.4" stroke="#ff0000" stroke-width="1.1"/>
<circle cx="57.1" cy="770.4" r="2.4" fill="#ff0000"/>
<text x="70.6" y="773.9" font-family='"Liberation Sans", sans-serif' font-size="9.7" fill="#141414" stroke="#141414">lnA</text>
<polyline points="64.4,877.0 93.0,808.4 121.6,780.5 150.0,772.1 178.6,770.3 207.1,765.0 236.0,764.6 264.5,765.0 293.2,765.5" fill="none" stroke="#333" stroke-width="1.15"/>
<rect x="61.30" y="873.90" width="6.2" height="6.2" fill="#fff"/>
<rect x="62.30" y="874.90" width="4.2" height="4.2" fill="#000"/>
<rect x="89.90" y="805.30" width="6.2" height="6.2" fill="#fff"/>
<rect x="90.90" y="806.30" width="4.2" height="4.2" fill="#000"/>
<rect x="118.50" y="777.40" width="6.2" height="6.2" fill="#fff"/>
<rect x="119.50" y="778.40" width="4.2" height="4.2" fill="#000"/>
<rect x="146.90" y="769.00" width="6.2" height="6.2" fill="#fff"/>
<rect x="147.90" y="770.00" width="4.2" height="4.2" fill="#000"/>
<rect x="175.50" y="767.20" width="6.2" height="6.2" fill="#fff"/>
<rect x="176.50" y="768.20" width="4.2" height="4.2" fill="#000"/>
<rect x="204.00" y="761.90" width="6.2" height="6.2" fill="#fff"/>
<rect x="205.00" y="762.90" width="4.2" height="4.2" fill="#000"/>
<rect x="232.90" y="761.50" width="6.2" height="6.2" fill="#fff"/>
<rect x="233.90" y="762.50" width="4.2" height="4.2" fill="#000"/>
<rect x="261.40" y="761.90" width="6.2" height="6.2" fill="#fff"/>
<rect x="262.40" y="762.90" width="4.2" height="4.2" fill="#000"/>
<rect x="290.10" y="762.40" width="6.2" height="6.2" fill="#fff"/>
<rect x="291.10" y="763.40" width="4.2" height="4.2" fill="#000"/>
<polyline points="64.4,878.0 93.0,831.4 121.6,802.0 150.0,794.6 178.6,794.0 207.1,789.3 236.0,790.0 264.5,792.3 293.2,795.2" fill="none" stroke="#ff0000" stroke-width="1.1"/>
<circle cx="64.4" cy="878.0" r="2.4" fill="#ff0000"/>
<circle cx="93.0" cy="831.4" r="2.4" fill="#ff0000"/>
<circle cx="121.6" cy="802.0" r="2.4" fill="#ff0000"/>
<circle cx="150.0" cy="794.6" r="2.4" fill="#ff0000"/>
<circle cx="178.6" cy="794.0" r="2.4" fill="#ff0000"/>
<circle cx="207.1" cy="789.3" r="2.4" fill="#ff0000"/>
<circle cx="236.0" cy="790.0" r="2.4" fill="#ff0000"/>
<circle cx="264.5" cy="792.3" r="2.4" fill="#ff0000"/>
<circle cx="293.2" cy="795.2" r="2.4" fill="#ff0000"/>
<line x1="77.6" y1="801.0" x2="77.6" y2="905.0" stroke="#ff0000" stroke-width="1.1" stroke-dasharray="3.5,3.5"/>
<text x="41.6" y="821.0" font-family='"Liberation Sans", sans-serif' font-size="9.7" fill="#ff0000" stroke="#ff0000">stage 1</text>
<text x="83.6" y="882.0" font-family='"Liberation Sans", sans-serif' font-size="9.7" fill="#ff0000" stroke="#ff0000">stage 2</text>
<line x1="69.0" y1="828.0" x2="44.0" y2="828.0" stroke="#ff0000" stroke-width="1.1"/>
<polygon points="42.0,828.0 46.5,826.2 46.5,829.8" fill="#ff0000"/>
<line x1="85.0" y1="890.4" x2="110.0" y2="890.4" stroke="#ff0000" stroke-width="1.1"/>
<polygon points="112.0,890.4 107.5,888.6 107.5,892.2" fill="#ff0000"/>
</g>
</svg>
</body></html>
